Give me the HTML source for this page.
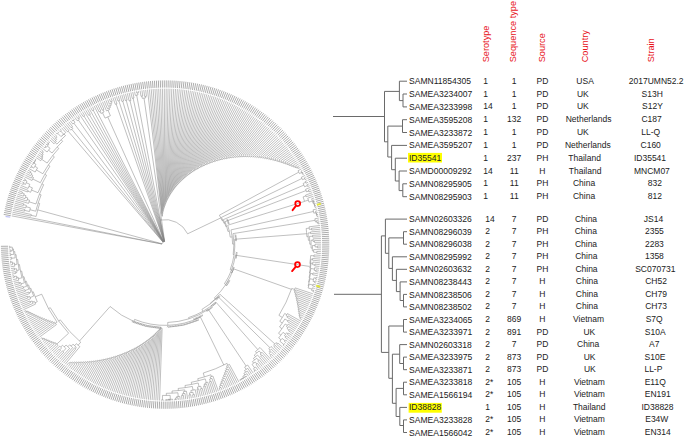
<!DOCTYPE html>
<html><head><meta charset="utf-8"><style>
html,body{margin:0;padding:0;background:#fff;}
svg{display:block;}
.n{font-family:"Liberation Sans",sans-serif;font-size:8.55px;fill:#222;}
.v{font-family:"Liberation Sans",sans-serif;font-size:8.5px;fill:#222;text-anchor:middle;}
.h{font-family:"Liberation Sans",sans-serif;font-size:9.2px;fill:#e8141b;}
</style></head><body>
<svg width="685" height="441" viewBox="0 0 685 441">
<path d="M161.95 244.01A3.20 3.20 0 0 1 164.46 241.46M161.95 244.01L11.76 215.90M161.96 243.97L12.12 214.06M162.01 243.76L37.74 209.90M36.14 216.44A132.00 132.00 0 0 1 39.68 203.45M36.14 216.44L31.11 215.34M30.94 216.14A137.15 137.15 0 0 1 31.29 214.53M30.94 216.14L12.50 212.23M31.29 214.53L12.90 210.40M39.68 203.45L38.17 202.95M35.75 211.22A133.59 133.59 0 0 1 41.12 194.86M35.75 211.22L29.91 209.71M29.45 211.54A139.62 139.62 0 0 1 30.39 207.89M29.45 211.54L24.60 210.36M24.40 211.21A144.61 144.61 0 0 1 24.81 209.52M24.40 211.21L13.32 208.57M24.81 209.52L13.76 206.75M30.39 207.89L26.03 206.70M25.69 207.95A144.14 144.14 0 0 1 26.38 205.45M25.69 207.95L14.23 204.94M26.38 205.45L23.54 204.65M23.30 205.50A147.09 147.09 0 0 1 23.78 203.80M23.30 205.50L14.71 203.13M23.78 203.80L15.22 201.33M41.12 194.86L39.43 194.18M35.93 203.98A135.41 135.41 0 0 1 43.67 184.69M35.93 203.98L28.99 201.79M28.50 203.38A142.68 142.68 0 0 1 29.50 200.21M28.50 203.38L15.75 199.53M29.50 200.21L27.25 199.48M26.75 201.03A145.04 145.04 0 0 1 27.77 197.93M26.75 201.03L16.30 197.74M27.77 197.93L25.53 197.17M25.04 198.64A147.41 147.41 0 0 1 26.04 195.71M25.04 198.64L16.88 195.96M26.04 195.71L23.81 194.92M23.37 196.20A149.77 149.77 0 0 1 24.26 193.65M23.37 196.20L17.47 194.18M24.26 193.65L22.04 192.85M21.73 193.71A152.14 152.14 0 0 1 22.35 191.99M21.73 193.71L18.09 192.41M22.35 191.99L18.72 190.65M43.67 184.69L41.95 183.84M37.97 192.69A137.32 137.32 0 0 1 46.56 175.29M37.97 192.69L31.49 190.05M30.61 192.26A144.32 144.32 0 0 1 32.41 187.85M30.61 192.26L27.83 191.18M27.51 192.01A147.30 147.30 0 0 1 28.15 190.36M27.51 192.01L19.38 188.90M28.15 190.36L20.06 187.15M32.41 187.85L28.94 186.37M28.08 188.42A148.09 148.09 0 0 1 29.83 184.33M28.08 188.42L20.76 185.42M29.83 184.33L26.25 182.73M25.51 184.41A152.01 152.01 0 0 1 27.00 181.07M25.51 184.41L23.67 183.61M23.30 184.46A154.03 154.03 0 0 1 24.03 182.76M23.30 184.46L21.48 183.69M24.03 182.76L22.23 181.97M27.00 181.07L24.95 180.13M24.57 180.97A154.27 154.27 0 0 1 25.34 179.29M24.57 180.97L22.99 180.26M25.34 179.29L23.77 178.55M46.56 175.29L44.85 174.29M40.31 182.71A139.30 139.30 0 0 1 49.95 166.21M40.31 182.71L32.78 178.97M32.05 180.47A147.70 147.70 0 0 1 33.53 177.49M32.05 180.47L24.57 176.86M33.53 177.49L32.02 176.72M31.31 178.12A149.40 149.40 0 0 1 32.74 175.32M31.31 178.12L25.40 175.18M32.74 175.32L31.23 174.53M30.60 175.74A151.10 151.10 0 0 1 31.87 173.33M30.60 175.74L26.24 173.51M31.87 173.33L30.37 172.53M29.94 173.34A152.80 152.80 0 0 1 30.80 171.72M29.94 173.34L27.10 171.85M30.80 171.72L27.99 170.19M49.95 166.21L48.27 165.07M42.83 173.72A141.33 141.33 0 0 1 54.33 156.83M42.83 173.72L36.37 169.98M35.18 172.06A148.80 148.80 0 0 1 37.59 167.91M35.18 172.06L28.89 168.55M37.59 167.91L34.86 166.27M33.75 168.13A151.99 151.99 0 0 1 35.99 164.42M33.75 168.13L31.58 166.87M31.11 167.67A154.50 154.50 0 0 1 32.05 166.07M31.11 167.67L29.81 166.92M32.05 166.07L30.76 165.30M35.99 164.42L33.85 163.09M33.00 164.47A154.50 154.50 0 0 1 34.71 161.72M33.00 164.47L31.72 163.70M34.71 161.72L34.71 161.72M33.97 162.89A154.50 154.50 0 0 1 35.47 160.55M33.97 162.89L32.70 162.10M35.47 160.55L35.47 160.55M34.96 161.33A154.50 154.50 0 0 1 35.97 159.77M34.96 161.33L33.70 160.52M35.97 159.77L34.72 158.95M54.33 156.83L52.71 155.54M47.14 163.05A143.40 143.40 0 0 1 58.75 148.41M47.14 163.05L41.71 159.30M40.73 160.74A150.00 150.00 0 0 1 42.72 157.87M40.73 160.74L35.76 157.39M42.72 157.87L41.98 157.35M41.01 158.74A150.90 150.90 0 0 1 42.97 155.97M41.01 158.74L36.81 155.84M42.97 155.97L42.24 155.44M41.31 156.74A151.80 151.80 0 0 1 43.19 154.16M41.31 156.74L37.89 154.31M43.19 154.16L42.46 153.62M41.65 154.73A152.70 152.70 0 0 1 43.29 152.52M41.65 154.73L38.98 152.78M43.29 152.52L42.57 151.98M42.02 152.71A153.60 153.60 0 0 1 43.13 151.24M42.02 152.71L40.09 151.28M43.13 151.24L41.22 149.78M58.75 148.41L57.18 146.99M52.05 152.99A145.51 145.51 0 0 1 62.63 141.29M52.05 152.99L48.56 150.16M47.09 152.01A150.00 150.00 0 0 1 50.07 148.33M47.09 152.01L42.37 148.30M50.07 148.33L47.36 146.06M46.03 147.66A153.54 153.54 0 0 1 48.70 144.48M46.03 147.66L45.29 147.05M44.70 147.78A154.50 154.50 0 0 1 45.87 146.34M44.70 147.78L43.53 146.84M45.87 146.34L44.72 145.38M48.70 144.48L47.97 143.85M47.06 144.91A154.50 154.50 0 0 1 48.88 142.80M47.06 144.91L45.92 143.94M48.88 142.80L48.88 142.80M48.27 143.50A154.50 154.50 0 0 1 49.49 142.11M48.27 143.50L47.13 142.52M49.49 142.11L48.37 141.11M62.63 141.29L61.13 139.77M56.93 144.11A147.65 147.65 0 0 1 65.50 135.61M56.93 144.11L55.20 142.51M54.06 143.75A150.00 150.00 0 0 1 56.36 141.28M54.06 143.75L49.62 139.72M56.36 141.28L55.54 140.50M54.46 141.66A151.12 151.12 0 0 1 56.64 139.36M54.46 141.66L50.89 138.34M56.64 139.36L55.84 138.57M54.89 139.56A152.25 152.25 0 0 1 56.80 137.59M54.89 139.56L52.17 136.98M56.80 137.59L56.00 136.80M55.35 137.46A153.38 153.38 0 0 1 56.64 136.15M55.35 137.46L53.47 135.63M56.64 136.15L54.79 134.29M65.50 135.61L64.04 134.01M62.39 135.54A149.81 149.81 0 0 1 65.71 132.50M62.39 135.54L62.26 135.40M60.96 136.64A150.00 150.00 0 0 1 63.58 134.17M60.96 136.64L57.83 133.41M57.17 134.05A154.50 154.50 0 0 1 58.50 132.76M57.17 134.05L56.12 132.98M58.50 132.76L57.47 131.68M63.58 134.17L60.64 130.98M59.96 131.61A154.34 154.34 0 0 1 61.33 130.35M59.96 131.61L58.83 130.39M61.33 130.35L60.21 129.13M65.71 132.50L61.61 127.87M163.02 242.17L68.08 131.12M67.40 131.71A149.30 149.30 0 0 1 68.76 130.54M67.40 131.71L63.01 126.64M68.76 130.54L64.44 125.42M163.09 242.11L71.80 129.31M70.76 130.15A148.32 148.32 0 0 1 72.84 128.47M70.76 130.15L65.88 124.22M72.84 128.47L71.77 127.12M71.07 127.69A150.04 150.04 0 0 1 72.48 126.57M71.07 127.69L67.33 123.04M72.48 126.57L68.80 121.87M163.18 242.04L73.91 123.23M72.82 124.05A151.81 151.81 0 0 1 75.01 122.41M72.82 124.05L70.28 120.73M75.01 122.41L73.56 120.44M72.81 121.00A154.26 154.26 0 0 1 74.30 119.90M72.81 121.00L71.77 119.60M74.30 119.90L73.28 118.49M163.27 241.97L78.34 120.02M77.22 120.81A151.81 151.81 0 0 1 79.47 119.24M77.22 120.81L74.80 117.39M79.47 119.24L78.64 118.03M77.88 118.55A153.29 153.29 0 0 1 79.40 117.51M77.88 118.55L76.33 116.32M79.40 117.51L77.88 115.26M163.34 241.93L79.44 114.22M163.39 241.89L83.89 116.00M83.11 116.49A152.10 152.10 0 0 1 84.66 115.52M83.11 116.49L81.01 113.20M84.66 115.52L82.59 112.20M163.44 241.86L84.19 111.22M163.49 241.83L89.57 114.87M88.79 115.33A150.11 150.11 0 0 1 90.35 114.42M88.79 115.33L85.80 110.26M90.35 114.42L87.42 109.32M163.54 241.81L89.05 108.40M163.59 241.78L93.20 110.21M92.40 110.65A152.41 152.41 0 0 1 94.01 109.78M92.40 110.65L90.69 107.49M94.01 109.78L92.34 106.61M163.64 241.75L94.00 105.74M163.79 241.68L107.71 116.90M105.06 118.13A140.00 140.00 0 0 1 110.38 115.74M105.06 118.13L102.49 112.71M100.91 113.47A146.00 146.00 0 0 1 104.08 111.96M100.91 113.47L99.97 111.56M99.18 111.95A148.13 148.13 0 0 1 100.77 111.17M99.18 111.95L95.67 104.90M100.77 111.17L97.35 104.08M104.08 111.96L103.09 109.83M102.29 110.21A148.35 148.35 0 0 1 103.90 109.46M102.29 110.21L99.05 103.27M103.90 109.46L100.75 102.49M110.38 115.74L108.03 110.21M106.47 110.89A146.00 146.00 0 0 1 109.60 109.56M106.47 110.89L102.46 101.73M109.60 109.56L108.96 107.99M107.42 108.63A147.70 147.70 0 0 1 110.50 107.36M107.42 108.63L104.18 100.99M110.50 107.36L109.87 105.78M108.41 106.37A149.40 149.40 0 0 1 111.33 105.21M108.41 106.37L105.91 100.27M111.33 105.21L110.72 103.63M109.45 104.12A151.10 151.10 0 0 1 111.99 103.14M109.45 104.12L107.65 99.57M111.99 103.14L111.39 101.55M110.53 101.88A152.80 152.80 0 0 1 112.25 101.23M110.53 101.88L109.39 98.89M112.25 101.23L111.14 98.23M164.05 241.58L116.13 103.99M115.28 104.29A148.89 148.89 0 0 1 116.97 103.70M115.28 104.29L112.91 97.59M116.97 103.70L114.68 96.97M164.12 241.55L118.86 100.81M118.00 101.09A151.04 151.04 0 0 1 119.73 100.54M118.00 101.09L116.45 96.38M119.73 100.54L118.23 95.81M164.19 241.53L122.76 101.20M121.90 101.46A149.52 149.52 0 0 1 123.62 100.95M121.90 101.46L120.02 95.25M123.62 100.95L121.82 94.72M164.27 241.51L126.24 100.34M125.38 100.58A149.40 149.40 0 0 1 127.11 100.11M125.38 100.58L123.62 94.21M127.11 100.11L125.43 93.73M164.34 241.49L130.03 100.74M129.17 100.96A148.07 148.07 0 0 1 130.90 100.54M129.17 100.96L127.25 93.26M130.90 100.54L129.07 92.82M164.42 241.47L133.12 98.21M132.24 98.40A149.85 149.85 0 0 1 134.00 98.02M132.24 98.40L130.89 92.40M134.00 98.02L132.72 92.00M164.50 241.46L136.65 95.13M135.31 95.39A152.15 152.15 0 0 1 138.00 94.88M135.31 95.39L134.56 91.62M138.00 94.88L137.62 92.79M136.71 92.96A154.27 154.27 0 0 1 138.54 92.63M136.71 92.96L136.40 91.26M138.54 92.63L138.24 90.93M164.64 241.43L144.00 98.06M142.24 98.33A148.05 148.05 0 0 1 145.76 97.82M142.24 98.33L141.89 96.12M141.00 96.26A150.29 150.29 0 0 1 142.78 95.98M141.00 96.26L140.09 90.62M142.78 95.98L141.94 90.33M145.76 97.82L145.57 96.40M144.68 96.52A149.48 149.48 0 0 1 146.46 96.29M144.68 96.52L143.79 90.06M146.46 96.29L145.65 89.82M164.46 241.46L160.12 220.10M160.33 220.06A25.00 25.00 0 0 1 187.64 233.79M160.33 220.06L159.65 216.55M161.88 216.21A28.57 28.57 0 0 1 162.56 216.14M161.88 216.21L147.51 89.60M162.56 216.14L162.38 214.08M162.01 214.12A30.64 30.64 0 0 1 162.74 214.05M162.01 214.12L149.37 89.40M162.74 214.05L162.62 212.45M162.23 212.48A32.24 32.24 0 0 1 163.01 212.43M162.23 212.48L151.23 89.22M163.01 212.43L162.92 211.15M162.52 211.18A33.52 33.52 0 0 1 163.33 211.13M162.52 211.18L153.10 89.06M163.33 211.13L163.26 209.85M162.84 209.88A34.80 34.80 0 0 1 163.67 209.83M162.84 209.88L154.97 88.93M163.67 209.83L163.62 208.56M163.19 208.58A36.07 36.07 0 0 1 164.06 208.54M163.19 208.58L156.84 88.82M164.06 208.54L164.02 207.27M163.57 207.28A37.35 37.35 0 0 1 164.47 207.26M163.57 207.28L158.71 88.73M164.47 207.26L164.45 205.98M163.98 205.99A38.62 38.62 0 0 1 164.91 205.98M163.98 205.99L160.58 88.67M164.91 205.98L164.90 204.70M164.42 204.71A39.90 39.90 0 0 1 165.38 204.70M164.42 204.71L162.45 88.62M165.38 204.70L165.39 203.43M164.90 203.42A41.18 41.18 0 0 1 165.88 203.43M164.90 203.42L164.33 88.60M165.88 203.43L165.91 202.16M165.40 202.15A42.45 42.45 0 0 1 166.42 202.17M165.40 202.15L166.20 88.60M166.42 202.17L166.46 200.89M165.93 200.88A43.73 43.73 0 0 1 166.98 200.91M165.93 200.88L168.07 88.63M166.98 200.91L167.04 199.64M166.50 199.62A45.00 45.00 0 0 1 167.58 199.66M166.50 199.62L169.95 88.68M167.58 199.66L167.65 198.39M167.09 198.36A46.28 46.28 0 0 1 168.20 198.42M167.09 198.36L171.82 88.74M168.20 198.42L168.29 197.15M167.72 197.12A47.56 47.56 0 0 1 168.86 197.19M167.72 197.12L173.69 88.84M168.86 197.19L168.96 195.92M168.37 195.88A48.83 48.83 0 0 1 169.54 195.97M168.37 195.88L175.56 88.95M169.54 195.97L169.66 194.70M169.06 194.65A50.11 50.11 0 0 1 170.26 194.76M169.06 194.65L177.43 89.09M170.26 194.76L170.39 193.49M169.78 193.43A51.38 51.38 0 0 1 171.00 193.56M169.78 193.43L179.29 89.25M171.00 193.56L171.15 192.29M170.52 192.22A52.66 52.66 0 0 1 171.78 192.36M170.52 192.22L181.16 89.43M171.78 192.36L171.94 191.10M171.30 191.02A53.94 53.94 0 0 1 172.58 191.19M171.30 191.02L183.02 89.63M172.58 191.19L172.76 189.92M172.10 189.83A55.21 55.21 0 0 1 173.41 190.02M172.10 189.83L184.88 89.86M173.41 190.02L173.61 188.76M172.93 188.66A56.49 56.49 0 0 1 174.28 188.86M172.93 188.66L186.74 90.11M174.28 188.86L174.48 187.60M173.80 187.49A57.76 57.76 0 0 1 175.17 187.72M173.80 187.49L188.59 90.38M175.17 187.72L175.39 186.46M174.69 186.34A59.04 59.04 0 0 1 176.09 186.59M174.69 186.34L190.44 90.67M176.09 186.59L176.32 185.34M175.61 185.21A60.32 60.32 0 0 1 177.03 185.48M175.61 185.21L192.29 90.99M177.03 185.48L177.29 184.23M176.56 184.08A61.59 61.59 0 0 1 178.01 184.38M176.56 184.08L194.13 91.32M178.01 184.38L178.28 183.13M177.54 182.97A62.87 62.87 0 0 1 179.02 183.29M177.54 182.97L195.97 91.68M179.02 183.29L179.30 182.05M178.55 181.88A64.14 64.14 0 0 1 180.05 182.22M178.55 181.88L197.80 92.07M180.05 182.22L180.35 180.98M179.58 180.80A65.42 65.42 0 0 1 181.11 181.17M179.58 180.80L199.63 92.47M181.11 181.17L181.42 179.93M180.64 179.74A66.70 66.70 0 0 1 182.20 180.13M180.64 179.74L201.45 92.89M182.20 180.13L182.52 178.90M181.73 178.69A67.97 67.97 0 0 1 183.31 179.11M181.73 178.69L203.27 93.34M183.31 179.11L183.65 177.88M182.85 177.66A69.25 69.25 0 0 1 184.45 178.11M182.85 177.66L205.09 93.81M184.45 178.11L184.81 176.88M183.99 176.65A70.53 70.53 0 0 1 185.62 177.13M183.99 176.65L206.89 94.30M185.62 177.13L185.99 175.91M185.17 175.66A71.80 71.80 0 0 1 186.81 176.16M185.17 175.66L208.69 94.82M186.81 176.16L187.20 174.94M186.36 174.68A73.08 73.08 0 0 1 188.04 175.22M186.36 174.68L210.49 95.35M188.04 175.22L188.44 174.00M187.59 173.73A74.35 74.35 0 0 1 189.28 174.29M187.59 173.73L212.28 95.91M189.28 174.29L189.70 173.08M188.84 172.79A75.63 75.63 0 0 1 190.55 173.38M188.84 172.79L214.06 96.48M190.55 173.38L190.98 172.18M190.11 171.88A76.91 76.91 0 0 1 191.85 172.50M190.11 171.88L215.84 97.08M191.85 172.50L192.29 171.30M191.41 170.98A78.18 78.18 0 0 1 193.17 171.63M191.41 170.98L217.60 97.70M193.17 171.63L193.63 170.44M192.74 170.10A79.46 79.46 0 0 1 194.52 170.79M192.74 170.10L219.36 98.34M194.52 170.79L194.99 169.60M194.09 169.25A80.73 80.73 0 0 1 195.89 169.97M194.09 169.25L221.12 99.00M195.89 169.97L196.38 168.79M195.46 168.42A82.01 82.01 0 0 1 197.29 169.17M195.46 168.42L222.86 99.69M197.29 169.17L197.79 168.00M196.86 167.61A83.29 83.29 0 0 1 198.70 168.39M196.86 167.61L224.60 100.39M198.70 168.39L199.22 167.23M198.29 166.82A84.56 84.56 0 0 1 200.14 167.64M198.29 166.82L226.32 101.12M200.14 167.64L200.67 166.48M199.73 166.06A85.84 85.84 0 0 1 201.61 166.91M199.73 166.06L228.04 101.86M201.61 166.91L202.15 165.76M201.20 165.32A87.11 87.11 0 0 1 203.10 166.21M201.20 165.32L229.75 102.63M203.10 166.21L203.65 165.06M202.69 164.60A88.39 88.39 0 0 1 204.60 165.53M202.69 164.60L231.45 103.41M204.60 165.53L205.18 164.37M204.22 163.90A89.68 89.68 0 0 1 206.14 164.86M204.22 163.90L233.14 104.22M206.14 164.86L206.74 163.69M205.77 163.20A90.99 90.99 0 0 1 207.71 164.20M205.77 163.20L234.82 105.05M207.71 164.20L208.33 163.04M207.34 162.53A92.30 92.30 0 0 1 209.30 163.57M207.34 162.53L236.49 105.89M209.30 163.57L209.93 162.42M208.94 161.88A93.62 93.62 0 0 1 210.91 162.96M208.94 161.88L238.15 106.76M210.91 162.96L211.55 161.82M210.56 161.27A94.93 94.93 0 0 1 212.54 162.38M210.56 161.27L239.80 107.65M212.54 162.38L213.20 161.25M212.19 160.67A96.24 96.24 0 0 1 214.20 161.83M212.19 160.67L241.44 108.56M214.20 161.83L214.87 160.70M213.85 160.11A97.55 97.55 0 0 1 215.87 161.31M213.85 160.11L243.07 109.48M215.87 161.31L216.55 160.19M215.53 159.58A98.86 98.86 0 0 1 217.56 160.81M215.53 159.58L244.69 110.43M217.56 160.81L218.26 159.70M217.23 159.07A100.17 100.17 0 0 1 219.27 160.34M217.23 159.07L246.29 111.39M219.27 160.34L219.98 159.24M218.95 158.59A101.48 101.48 0 0 1 221.00 159.91M218.95 158.59L247.88 112.38M221.00 159.91L221.72 158.81M220.69 158.14A102.79 102.79 0 0 1 222.75 159.50M220.69 158.14L249.47 113.38M222.75 159.50L223.48 158.42M222.45 157.72A104.10 104.10 0 0 1 224.51 159.12M222.45 157.72L251.04 114.40M224.51 159.12L225.26 158.05M224.22 157.33A105.41 105.41 0 0 1 226.30 158.77M224.22 157.33L252.59 115.45M226.30 158.77L227.06 157.71M226.01 156.97A106.72 106.72 0 0 1 228.10 158.46M226.01 156.97L254.14 116.51M228.10 158.46L228.87 157.40M227.82 156.64A108.03 108.03 0 0 1 229.91 158.17M227.82 156.64L255.67 117.58M229.91 158.17L230.70 157.12M229.64 156.34A109.34 109.34 0 0 1 231.74 157.92M229.64 156.34L257.19 118.68M231.74 157.92L232.54 156.88M231.49 156.08A110.65 110.65 0 0 1 233.59 157.70M231.49 156.08L258.69 119.79M233.59 157.70L234.40 156.67M233.34 155.84A111.96 111.96 0 0 1 235.45 157.50M233.34 155.84L260.18 120.93M235.45 157.50L236.28 156.49M235.21 155.64A113.27 113.27 0 0 1 237.33 157.35M235.21 155.64L261.66 122.08M237.33 157.35L238.17 156.34M237.10 155.47A114.58 114.58 0 0 1 239.22 157.22M237.10 155.47L263.13 123.25M239.22 157.22L240.07 156.22M239.00 155.33A115.89 115.89 0 0 1 241.12 157.13M239.00 155.33L264.58 124.43M241.12 157.13L241.98 156.14M240.92 155.22A117.20 117.20 0 0 1 243.04 157.07M240.92 155.22L266.01 125.64M243.04 157.07L243.91 156.09M242.84 155.15A118.51 118.51 0 0 1 244.97 157.04M242.84 155.15L267.43 126.86M244.97 157.04L245.85 156.07M244.78 155.11A119.82 119.82 0 0 1 246.91 157.05M244.78 155.11L268.84 128.09M246.91 157.05L247.80 156.09M246.73 155.11A121.13 121.13 0 0 1 248.86 157.09M246.73 155.11L270.23 129.35M248.86 157.09L249.77 156.15M248.70 155.13A122.44 122.44 0 0 1 250.82 157.17M248.70 155.13L271.61 130.62M250.82 157.17L251.74 156.23M250.67 155.20A123.75 123.75 0 0 1 252.79 157.28M250.67 155.20L272.97 131.90M252.79 157.28L253.72 156.35M252.66 155.30A125.07 125.07 0 0 1 254.78 157.42M252.66 155.30L274.31 133.21M254.78 157.42L255.72 156.51M254.65 155.43A126.38 126.38 0 0 1 256.77 157.61M254.65 155.43L275.64 134.53M256.77 157.61L257.72 156.70M256.66 155.60A127.69 127.69 0 0 1 258.77 157.82M256.66 155.60L276.96 135.86M258.77 157.82L259.73 156.93M258.67 155.80A129.00 129.00 0 0 1 260.77 158.07M258.67 155.80L278.26 137.21M260.77 158.07L261.73 157.21M260.68 156.05A130.29 130.29 0 0 1 262.77 158.37M260.68 156.05L279.54 138.58M262.77 158.37L263.74 157.52M262.69 156.34A131.58 131.58 0 0 1 264.78 158.71M262.69 156.34L280.80 139.96M264.78 158.71L265.76 157.86M264.71 156.66A132.88 132.88 0 0 1 266.80 159.08M264.71 156.66L282.05 141.36M266.80 159.08L267.79 158.25M266.74 157.02A134.17 134.17 0 0 1 268.82 159.49M266.74 157.02L283.28 142.77M268.82 159.49L269.82 158.67M268.78 157.41A135.46 135.46 0 0 1 270.84 159.93M268.78 157.41L284.49 144.20M270.84 159.93L271.85 159.12M270.82 157.85A136.76 136.76 0 0 1 272.87 160.41M270.82 157.85L285.69 145.64M272.87 160.41L273.89 159.61M272.86 158.31A138.05 138.05 0 0 1 274.90 160.92M272.86 158.31L286.87 147.09M274.90 160.92L275.93 160.14M274.91 158.82A139.34 139.34 0 0 1 276.93 161.48M274.91 158.82L288.03 148.56M276.93 161.48L277.97 160.71M276.96 159.36A140.64 140.64 0 0 1 278.97 162.07M276.96 159.36L289.18 150.04M278.97 162.07L280.02 161.31M279.01 159.93A141.93 141.93 0 0 1 281.01 162.69M279.01 159.93L290.30 151.54M281.01 162.69L282.06 161.95M281.07 160.55A143.22 143.22 0 0 1 283.05 163.35M281.07 160.55L291.41 153.05M283.05 163.35L284.11 162.62M283.12 161.20A144.51 144.51 0 0 1 285.08 164.05M283.12 161.20L292.50 154.57M285.08 164.05L286.16 163.33M285.18 161.89A145.81 145.81 0 0 1 287.12 164.78M285.18 161.89L293.57 156.11M287.12 164.78L288.20 164.07M287.24 162.62A147.10 147.10 0 0 1 289.14 165.53M287.24 162.62L294.63 157.66M289.14 165.53L290.23 164.83M289.30 163.38A148.39 148.39 0 0 1 291.15 166.29M289.30 163.38L295.66 159.22M291.15 166.29L292.25 165.61M291.35 164.19A149.69 149.69 0 0 1 293.13 167.05M291.35 164.19L296.68 160.79M293.13 167.05L294.24 166.38M293.41 165.03A150.98 150.98 0 0 1 295.05 167.74M293.41 165.03L297.67 162.38M295.05 167.74L296.17 167.08M295.46 165.90A152.27 152.27 0 0 1 296.86 168.26M295.46 165.90L298.65 163.98M296.86 168.26L297.98 167.62M297.51 166.82A153.57 153.57 0 0 1 298.44 168.42M297.51 166.82L299.61 165.59M298.44 168.42L300.55 167.21M187.64 233.79L220.80 217.88M219.41 215.17A61.77 61.77 0 0 1 222.05 220.66M219.41 215.17L298.74 172.18M297.97 170.78A152.00 152.00 0 0 1 299.49 173.59M297.97 170.78L301.47 168.84M299.49 173.59L301.70 172.42M301.05 171.20A154.50 154.50 0 0 1 302.35 173.66M301.05 171.20L302.37 170.48M302.35 173.66L302.35 173.66M301.92 172.83A154.50 154.50 0 0 1 302.77 174.48M301.92 172.83L303.25 172.14M302.77 174.48L304.11 173.80M222.05 220.66L222.79 220.35M221.45 217.38A62.58 62.58 0 0 1 223.97 223.39M221.45 217.38L301.96 178.48M301.36 177.25A152.00 152.00 0 0 1 302.55 179.71M301.36 177.25L304.95 175.47M302.55 179.71L304.70 178.70M304.30 177.86A154.37 154.37 0 0 1 305.09 179.54M304.30 177.86L305.77 177.16M305.09 179.54L306.57 178.85M223.97 223.39L224.73 223.12M223.35 219.63A63.38 63.38 0 0 1 225.90 226.69M223.35 219.63L303.88 185.10M303.16 183.44A151.00 151.00 0 0 1 304.59 186.77M303.16 183.44L305.57 182.37M305.19 181.53A153.63 153.63 0 0 1 305.94 183.21M305.19 181.53L307.35 180.56M305.94 183.21L308.11 182.27M304.59 186.77L307.27 185.66M306.91 184.81A153.90 153.90 0 0 1 307.62 186.51M306.91 184.81L308.84 183.99M307.62 186.51L309.56 185.72M225.90 226.69L226.67 226.46M225.03 221.63A64.18 64.18 0 0 1 227.91 231.41M225.03 221.63L306.10 190.56M305.61 189.29A151.00 151.00 0 0 1 306.58 191.83M305.61 189.29L310.26 187.46M306.58 191.83L308.66 191.05M308.34 190.19A153.22 153.22 0 0 1 308.98 191.92M308.34 190.19L310.93 189.21M308.98 191.92L311.59 190.96M227.91 231.41L229.26 231.13M227.73 225.21A65.56 65.56 0 0 1 230.23 237.16M227.73 225.21L304.57 201.43M303.08 196.88A146.00 146.00 0 0 1 304.53 201.30M303.08 196.88L305.92 195.90M305.62 195.05A149.00 149.00 0 0 1 306.21 196.74M305.62 195.05L312.22 192.72M306.21 196.74L312.83 194.49M304.53 201.30L308.35 200.12M307.71 198.13A149.99 149.99 0 0 1 308.95 202.11M307.71 198.13L313.43 196.27M308.95 202.11L312.39 201.09M311.68 198.78A153.58 153.58 0 0 1 313.05 203.42M311.68 198.78L313.99 198.06M313.05 203.42L313.94 203.17M313.37 201.17A154.50 154.50 0 0 1 314.49 205.19M313.37 201.17L313.37 201.17M313.11 200.28A154.50 154.50 0 0 1 313.63 202.06M313.11 200.28L314.54 199.85M313.63 202.06L315.07 201.64M314.49 205.19L314.49 205.19M314.13 203.84A154.50 154.50 0 0 1 314.84 206.54M314.13 203.84L315.57 203.45M314.84 206.54L314.84 206.54M314.61 205.64A154.50 154.50 0 0 1 315.06 207.43M314.61 205.64L316.06 205.26M315.06 207.43L316.52 207.07M230.23 237.16L232.16 236.94M230.97 229.89A67.50 67.50 0 0 1 232.59 244.08M230.97 229.89L313.45 211.48M313.07 209.81A152.00 152.00 0 0 1 313.81 213.15M313.07 209.81L316.96 208.89M313.81 213.15L315.93 212.70M315.58 211.12A154.16 154.16 0 0 1 316.25 214.29M315.58 211.12L317.38 210.72M316.25 214.29L316.58 214.22M316.30 212.86A154.50 154.50 0 0 1 316.85 215.59M316.30 212.86L317.77 212.55M316.85 215.59L316.85 215.59M316.67 214.68A154.50 154.50 0 0 1 317.02 216.50M316.67 214.68L318.15 214.39M317.02 216.50L318.50 216.23M232.59 244.08L233.92 244.07M233.04 233.61A68.82 68.82 0 0 1 233.20 254.53M233.04 233.61L315.15 220.33M314.89 218.75A152.00 152.00 0 0 1 315.40 221.90M314.89 218.75L318.83 218.07M315.40 221.90L316.94 221.67M316.72 220.30A153.56 153.56 0 0 1 317.14 223.04M316.72 220.30L319.14 219.92M317.14 223.04L318.07 222.91M317.94 221.99A154.50 154.50 0 0 1 318.20 223.83M317.94 221.99L319.42 221.77M318.20 223.83L319.68 223.62M233.20 254.53L234.09 254.66M234.61 239.25A69.72 69.72 0 0 1 230.19 269.58M234.61 239.25L306.68 233.71M306.18 228.47A142.00 142.00 0 0 1 306.88 236.75M306.18 228.47L309.24 228.12M309.08 226.82A145.07 145.07 0 0 1 309.38 229.42M309.08 226.82L319.92 225.48M309.38 229.42L311.62 229.18M311.52 228.30A147.32 147.32 0 0 1 311.71 230.06M311.52 228.30L320.14 227.34M311.71 230.06L320.34 229.20M306.88 236.75L308.21 236.67M307.97 233.03A143.33 143.33 0 0 1 308.37 240.33M307.97 233.03L310.57 232.81M310.50 231.94A145.95 145.95 0 0 1 310.64 233.69M310.50 231.94L320.51 231.07M310.64 233.69L320.66 232.94M308.37 240.33L309.70 240.29M309.53 236.38A144.67 144.67 0 0 1 309.77 244.20M309.53 236.38L312.60 236.21M312.55 235.32A147.74 147.74 0 0 1 312.65 237.10M312.55 235.32L320.79 234.81M312.65 237.10L320.90 236.68M309.77 244.20L311.10 244.19M311.04 240.25A146.00 146.00 0 0 1 311.06 248.14M311.04 240.25L313.13 240.19M313.08 238.85A148.09 148.09 0 0 1 313.16 241.52M313.08 238.85L320.98 238.55M313.16 241.52L314.42 241.49M314.40 240.60A149.35 149.35 0 0 1 314.44 242.39M314.40 240.60L321.04 240.42M314.44 242.39L321.08 242.29M311.06 248.14L312.39 248.17M312.43 245.52A147.33 147.33 0 0 1 312.30 250.82M312.43 245.52L315.07 245.53M315.07 244.18A149.97 149.97 0 0 1 315.05 246.88M315.07 244.18L321.10 244.17M315.05 246.88L317.33 246.92M317.34 246.00A152.25 152.25 0 0 1 317.31 247.83M317.34 246.00L321.09 246.04M317.31 247.83L321.06 247.91M312.30 250.82L313.63 250.88M313.68 249.54A148.67 148.67 0 0 1 313.57 252.22M313.68 249.54L321.01 249.78M313.57 252.22L316.74 252.38M316.78 251.47A151.84 151.84 0 0 1 316.69 253.29M316.78 251.47L320.94 251.66M316.69 253.29L320.84 253.53M230.19 269.58L231.48 270.08M235.40 255.23A71.10 71.10 0 0 1 224.46 283.74M235.40 255.23L309.46 266.43M310.69 255.58A146.00 146.00 0 0 1 309.87 263.49M310.69 255.58L313.95 255.82M314.01 254.93A149.27 149.27 0 0 1 313.88 256.72M314.01 254.93L320.73 255.40M313.88 256.72L320.59 257.26M309.87 263.49L310.44 263.56M310.95 259.13A146.57 146.57 0 0 1 309.80 267.97M310.95 259.13L312.55 259.29M312.63 258.40A148.18 148.18 0 0 1 312.45 260.17M312.63 258.40L320.42 259.13M312.45 260.17L320.24 260.99M309.80 267.97L310.36 268.06M311.07 263.13A147.14 147.14 0 0 1 309.48 272.97M311.07 263.13L312.74 263.35M312.91 262.02A148.83 148.83 0 0 1 312.57 264.67M312.91 262.02L320.03 262.85M312.57 264.67L314.88 264.99M315.00 264.09A151.16 151.16 0 0 1 314.76 265.89M315.00 264.09L319.80 264.71M314.76 265.89L319.55 266.57M309.48 272.97L310.04 273.08M310.87 268.47A147.71 147.71 0 0 1 309.07 277.66M310.87 268.47L314.42 269.05M314.64 267.71A151.31 151.31 0 0 1 314.20 270.40M314.64 267.71L319.27 268.42M314.20 270.40L315.96 270.70M316.11 269.79A153.10 153.10 0 0 1 315.80 271.61M316.11 269.79L318.97 270.27M315.80 271.61L318.65 272.12M309.07 277.66L309.62 277.79M310.57 273.38A148.29 148.29 0 0 1 308.55 282.16M310.57 273.38L312.81 273.83M312.98 272.94A150.57 150.57 0 0 1 312.63 274.71M312.98 272.94L318.31 273.96M312.63 274.71L317.95 275.80M308.55 282.16L309.10 282.31M309.99 278.73A148.86 148.86 0 0 1 308.12 285.86M309.99 278.73L313.47 279.55M313.88 277.77A152.43 152.43 0 0 1 313.04 281.33M313.88 277.77L315.85 278.21M316.05 277.30A154.45 154.45 0 0 1 315.64 279.11M316.05 277.30L317.56 277.63M315.64 279.11L317.16 279.46M313.04 281.33L314.83 281.78M315.05 280.88A154.28 154.28 0 0 1 314.60 282.67M315.05 280.88L316.73 281.28M314.60 282.67L316.27 283.10M308.12 285.86L308.67 286.02M309.22 284.08A149.43 149.43 0 0 1 308.10 287.96M309.22 284.08L312.90 285.09M313.14 284.20A153.24 153.24 0 0 1 312.65 285.97M313.14 284.20L315.80 284.91M312.65 285.97L315.31 286.72M308.10 287.96L312.05 289.16M312.44 287.83A153.55 153.55 0 0 1 311.64 290.48M312.44 287.83L314.79 288.52M311.64 290.48L313.31 291.00M313.58 290.11A155.30 155.30 0 0 1 313.03 291.89M313.58 290.11L314.25 290.31M313.03 291.89L313.69 292.10M224.46 283.74L225.73 284.57M233.55 268.84A72.62 72.62 0 0 1 214.35 297.96M233.55 268.84L291.41 289.33M291.72 288.45A134.00 134.00 0 0 1 278.91 315.34M291.72 288.45L294.56 289.44M295.08 287.88A137.00 137.00 0 0 1 294.01 290.99M295.08 287.88L313.11 293.88M294.01 290.99L295.14 291.39M295.69 289.83A138.20 138.20 0 0 1 294.57 292.95M295.69 289.83L312.51 295.65M294.57 292.95L295.69 293.37M296.27 291.80A139.40 139.40 0 0 1 295.09 294.94M296.27 291.80L311.89 297.42M295.09 294.94L296.21 295.37M296.81 293.79A140.60 140.60 0 0 1 295.60 296.94M296.81 293.79L311.24 299.18M295.60 296.94L296.71 297.39M297.33 295.80A141.80 141.80 0 0 1 296.07 298.96M297.33 295.80L310.57 300.93M296.07 298.96L297.17 299.42M297.82 297.83A143.00 143.00 0 0 1 296.51 301.00M297.82 297.83L309.89 302.67M296.51 301.00L297.61 301.48M298.28 299.88A144.20 144.20 0 0 1 296.92 303.06M298.28 299.88L309.18 304.41M296.92 303.06L298.02 303.55M298.71 301.95A145.40 145.40 0 0 1 297.30 305.13M298.71 301.95L308.45 306.13M297.30 305.13L298.39 305.63M299.11 304.04A146.60 146.60 0 0 1 297.66 307.21M299.11 304.04L307.70 307.85M297.66 307.21L298.74 307.73M299.48 306.14A147.80 147.80 0 0 1 297.99 309.30M299.48 306.14L306.93 309.56M297.99 309.30L299.06 309.83M299.81 308.26A149.00 149.00 0 0 1 298.30 311.38M299.81 308.26L306.14 311.26M298.30 311.38L299.37 311.92M300.12 310.40A150.20 150.20 0 0 1 298.60 313.43M300.12 310.40L305.33 312.94M298.60 313.43L299.67 313.98M300.39 312.56A151.40 151.40 0 0 1 298.93 315.39M300.39 312.56L304.50 314.62M298.93 315.39L299.99 315.95M300.63 314.73A152.60 152.60 0 0 1 299.35 317.16M300.63 314.73L303.65 316.29M299.35 317.16L300.40 317.73M300.84 316.92A153.80 153.80 0 0 1 299.96 318.54M300.84 316.92L302.78 317.95M299.96 318.54L301.89 319.60M278.91 315.34L282.31 317.45M284.69 313.47A138.00 138.00 0 0 1 279.79 321.34M284.69 313.47L286.82 314.70M287.44 313.60A140.46 140.46 0 0 1 286.18 315.79M287.44 313.60L300.98 321.24M286.18 315.79L287.57 316.61M288.00 315.87A142.07 142.07 0 0 1 287.14 317.34M288.00 315.87L300.05 322.86M287.14 317.34L299.10 324.48M279.79 321.34L282.29 323.01M284.89 318.97A141.00 141.00 0 0 1 279.54 326.97M284.89 318.97L288.04 320.92M288.50 320.18A144.70 144.70 0 0 1 287.58 321.65M288.50 320.18L298.13 326.08M287.58 321.65L297.14 327.67M279.54 326.97L281.98 328.72M285.23 324.00A144.00 144.00 0 0 1 278.54 333.30M285.23 324.00L287.32 325.39M288.17 324.10A146.51 146.51 0 0 1 286.47 326.67M288.17 324.10L296.14 329.25M286.47 326.67L287.93 327.66M288.67 326.55A148.27 148.27 0 0 1 287.17 328.76M288.67 326.55L295.11 330.82M287.17 328.76L289.14 330.11M289.65 329.37A150.66 150.66 0 0 1 288.62 330.86M289.65 329.37L294.07 332.37M288.62 330.86L293.00 333.91M278.54 333.30L280.90 335.15M283.04 332.34A147.00 147.00 0 0 1 278.69 337.90M283.04 332.34L285.57 334.22M286.64 332.77A150.15 150.15 0 0 1 284.49 335.66M286.64 332.77L288.13 333.85M288.67 333.11A152.00 152.00 0 0 1 287.60 334.59M288.67 333.11L291.92 335.44M287.60 334.59L290.82 336.96M284.49 335.66L285.69 336.58M286.24 335.85A151.66 151.66 0 0 1 285.13 337.30M286.24 335.85L289.70 338.46M285.13 337.30L288.57 339.95M278.69 337.90L281.01 339.81M282.15 338.41A150.00 150.00 0 0 1 279.86 341.19M282.15 338.41L285.08 340.76M285.66 340.04A153.76 153.76 0 0 1 284.51 341.48M285.66 340.04L287.41 341.43M284.51 341.48L286.24 342.89M279.86 341.19L283.63 344.36M284.23 343.65A154.92 154.92 0 0 1 283.03 345.07M284.23 343.65L285.05 344.34M283.03 345.07L283.85 345.77M214.35 297.96L215.29 298.99M219.97 294.27A74.01 74.01 0 0 1 210.21 303.27M219.97 294.27L274.83 343.92M276.01 342.59A148.00 148.00 0 0 1 273.62 345.23M276.01 342.59L277.25 343.69M277.85 343.02A149.66 149.66 0 0 1 276.66 344.37M277.85 343.02L282.62 347.19M276.66 344.37L281.38 348.59M273.62 345.23L274.52 346.06M275.13 345.40A149.22 149.22 0 0 1 273.91 346.71M275.13 345.40L280.13 349.98M273.91 346.71L278.85 351.35M210.21 303.27L210.53 303.68M218.24 296.85A74.53 74.53 0 0 1 201.94 309.38M218.24 296.85L269.92 347.66M271.07 346.47A147.00 147.00 0 0 1 268.75 348.83M271.07 346.47L277.56 352.71M268.75 348.83L270.21 350.30M271.32 349.19A149.07 149.07 0 0 1 269.09 351.40M271.32 349.19L276.26 354.05M269.09 351.40L270.07 352.40M271.04 351.45A150.47 150.47 0 0 1 269.10 353.34M271.04 351.45L274.93 355.38M269.10 353.34L270.75 355.07M271.41 354.43A152.86 152.86 0 0 1 270.08 355.70M271.41 354.43L273.60 356.69M270.08 355.70L272.24 357.99M201.94 309.38L203.01 311.25M215.85 302.08A76.68 76.68 0 0 1 188.57 317.60M215.85 302.08L257.75 349.55M260.02 347.50A140.00 140.00 0 0 1 255.44 351.55M260.02 347.50L270.87 359.27M255.44 351.55L256.73 353.08M259.17 350.97A142.00 142.00 0 0 1 254.24 355.13M259.17 350.97L261.06 353.11M262.03 352.24A144.85 144.85 0 0 1 260.07 353.97M262.03 352.24L269.49 360.53M260.07 353.97L261.30 355.38M261.96 354.80A146.72 146.72 0 0 1 260.63 355.96M261.96 354.80L268.09 361.77M260.63 355.96L266.67 363.00M254.24 355.13L255.50 356.69M257.54 355.01A144.00 144.00 0 0 1 253.42 358.33M257.54 355.01L265.25 364.21M253.42 358.33L254.65 359.91M256.79 358.21A146.00 146.00 0 0 1 252.47 361.57M256.79 358.21L258.46 360.28M259.16 359.72A148.66 148.66 0 0 1 257.77 360.84M259.16 359.72L263.80 365.41M257.77 360.84L262.34 366.58M252.47 361.57L253.66 363.18M255.26 361.97A148.00 148.00 0 0 1 252.06 364.36M255.26 361.97L256.87 364.07M257.59 363.51A150.64 150.64 0 0 1 256.15 364.61M257.59 363.51L260.87 367.74M256.15 364.61L259.39 368.88M252.06 364.36L254.60 367.86M255.70 367.05A152.33 152.33 0 0 1 253.48 368.66M255.70 367.05L257.89 370.00M253.48 368.66L254.70 370.37M255.46 369.83A154.43 154.43 0 0 1 253.95 370.91M255.46 369.83L256.38 371.11M253.95 370.91L254.85 372.20M188.57 317.60L188.94 318.76M208.34 309.39A77.90 77.90 0 0 1 167.71 322.46M208.34 309.39L246.15 366.04M247.66 365.02A146.00 146.00 0 0 1 244.63 367.04M247.66 365.02L253.31 373.26M244.63 367.04L246.18 369.43M247.79 368.37A148.85 148.85 0 0 1 244.56 370.47M247.79 368.37L251.76 374.31M244.56 370.47L245.65 372.20M247.41 371.07A150.90 150.90 0 0 1 243.87 373.31M247.41 371.07L250.20 375.35M243.87 373.31L244.89 374.97M246.93 373.70A152.85 152.85 0 0 1 242.83 376.21M246.93 373.70L248.62 376.36M242.83 376.21L243.66 377.63M245.45 376.56A154.50 154.50 0 0 1 241.86 378.68M245.45 376.56L245.45 376.56M246.25 376.08A154.50 154.50 0 0 1 244.66 377.04M246.25 376.08L247.03 377.35M244.66 377.04L245.43 378.33M241.86 378.68L241.86 378.68M243.06 377.99A154.50 154.50 0 0 1 240.65 379.37M243.06 377.99L243.82 379.28M240.65 379.37L240.65 379.37M241.46 378.91A154.50 154.50 0 0 1 239.84 379.82M241.46 378.91L242.20 380.22M239.84 379.82L240.56 381.13M167.71 322.46L167.81 325.34M200.51 317.21A80.78 80.78 0 0 1 134.63 319.42M200.51 317.21L223.84 365.04M227.09 363.40A134.00 134.00 0 0 1 203.24 373.06M227.09 363.40L228.01 365.17M229.46 364.41A136.00 136.00 0 0 1 226.56 365.92M229.46 364.41L238.92 382.03M226.56 365.92L227.34 367.46M228.81 366.70A137.73 137.73 0 0 1 225.86 368.20M228.81 366.70L237.26 382.90M225.86 368.20L226.63 369.75M228.12 369.00A139.45 139.45 0 0 1 225.12 370.48M228.12 369.00L235.60 383.76M225.12 370.48L225.87 372.04M227.39 371.30A141.18 141.18 0 0 1 224.34 372.75M227.39 371.30L233.92 384.60M224.34 372.75L225.06 374.32M226.60 373.60A142.91 142.91 0 0 1 223.51 375.03M226.60 373.60L232.24 385.41M223.51 375.03L224.22 376.60M225.77 375.89A144.64 144.64 0 0 1 222.65 377.29M225.77 375.89L230.54 386.21M222.65 377.29L223.34 378.88M224.90 378.19A146.36 146.36 0 0 1 221.78 379.55M224.90 378.19L228.84 386.99M221.78 379.55L222.44 381.14M223.98 380.48A148.09 148.09 0 0 1 220.90 381.77M223.98 380.48L227.12 387.74M220.90 381.77L221.55 383.37M223.01 382.77A149.82 149.82 0 0 1 220.09 383.96M223.01 382.77L225.40 388.48M220.09 383.96L220.73 385.57M221.99 385.06A151.55 151.55 0 0 1 219.46 386.06M221.99 385.06L223.67 389.19M219.46 386.06L220.08 387.67M220.93 387.34A153.27 153.27 0 0 1 219.22 388.00M220.93 387.34L221.93 389.88M219.22 388.00L220.18 390.55M203.24 373.06L204.38 376.89M210.90 374.78A138.00 138.00 0 0 1 197.76 378.68M210.90 374.78L211.52 376.51M212.90 376.02A139.84 139.84 0 0 1 210.13 376.99M212.90 376.02L218.42 391.20M210.13 376.99L210.74 378.80M211.95 378.39A141.75 141.75 0 0 1 209.53 379.21M211.95 378.39L216.66 391.83M209.53 379.21L210.27 381.46M211.10 381.19A144.12 144.12 0 0 1 209.45 381.73M211.10 381.19L214.89 392.44M209.45 381.73L213.11 393.03M197.76 378.68L198.26 380.76M205.21 378.88A140.14 140.14 0 0 1 191.22 382.29M205.21 378.88L206.33 382.62M207.78 382.18A144.05 144.05 0 0 1 204.88 383.05M207.78 382.18L211.32 393.60M204.88 383.05L205.24 384.29M206.50 383.93A145.35 145.35 0 0 1 203.98 384.65M206.50 383.93L209.53 394.14M203.98 384.65L204.41 386.20M205.26 385.96A146.95 146.95 0 0 1 203.56 386.43M205.26 385.96L207.73 394.66M203.56 386.43L205.93 395.16M191.22 382.29L191.62 384.39M198.20 382.98A142.29 142.29 0 0 1 184.98 385.49M198.20 382.98L199.08 386.69M200.79 386.27A146.09 146.09 0 0 1 197.38 387.08M200.79 386.27L201.37 388.58M202.23 388.36A148.48 148.48 0 0 1 200.51 388.79M202.23 388.36L204.12 395.64M200.51 388.79L202.30 396.10M197.38 387.08L197.84 389.14M198.71 388.94A148.21 148.21 0 0 1 196.97 389.34M198.71 388.94L200.48 396.54M196.97 389.34L198.65 396.95M184.98 385.49L185.28 387.61M192.34 386.44A144.43 144.43 0 0 1 178.18 388.44M192.34 386.44L193.04 390.10M195.22 389.66A148.16 148.16 0 0 1 190.86 390.50M195.22 389.66L196.82 397.34M190.86 390.50L191.22 392.57M193.00 392.24A150.25 150.25 0 0 1 189.44 392.87M193.00 392.24L193.45 394.63M194.35 394.46A152.69 152.69 0 0 1 192.55 394.80M194.35 394.46L194.98 397.71M192.55 394.80L193.14 398.06M189.44 392.87L189.76 394.81M190.66 394.66A152.22 152.22 0 0 1 188.86 394.96M190.66 394.66L191.30 398.38M188.86 394.96L189.45 398.69M178.18 388.44L178.37 390.57M184.71 389.85A146.57 146.57 0 0 1 172.01 391.01M184.71 389.85L184.93 391.46M186.47 391.24A148.19 148.19 0 0 1 183.38 391.66M186.47 391.24L187.60 398.97M183.38 391.66L183.62 393.58M184.97 393.41A150.13 150.13 0 0 1 182.28 393.75M184.97 393.41L185.74 399.23M182.28 393.75L182.47 395.41M183.38 395.30A151.80 151.80 0 0 1 181.57 395.51M183.38 395.30L183.88 399.47M181.57 395.51L182.02 399.68M172.01 391.01L172.11 393.15M177.90 392.76A148.71 148.71 0 0 1 166.31 393.31M177.90 392.76L178.23 396.54M179.82 396.40A152.51 152.51 0 0 1 176.63 396.67M179.82 396.40L180.16 399.87M176.63 396.67L176.73 397.96M178.11 397.85A153.80 153.80 0 0 1 175.35 398.06M178.11 397.85L178.29 400.04M175.35 398.06L175.45 399.56M176.38 399.49A155.30 155.30 0 0 1 174.52 399.61M176.38 399.49L176.43 400.19M174.52 399.61L174.56 400.31M166.31 393.31L166.33 395.45M170.17 395.37A150.86 150.86 0 0 1 162.48 395.43M170.17 395.37L170.31 399.31M172.63 399.22A154.80 154.80 0 0 1 167.98 399.37M172.63 399.22L172.69 400.42M167.98 399.37L167.99 399.87M169.86 399.83A155.30 155.30 0 0 1 166.13 399.90M169.86 399.83L169.86 399.83M170.79 399.80A155.30 155.30 0 0 1 168.93 399.85M170.79 399.80L170.82 400.50M168.93 399.85L168.94 400.55M166.13 399.90L166.13 399.90M167.06 399.89A155.30 155.30 0 0 1 165.20 399.90M167.06 399.89L167.07 400.59M165.20 399.90L165.20 400.60M162.48 395.43L162.40 399.88M163.33 399.89A155.30 155.30 0 0 1 161.47 399.86M163.33 399.89L163.32 400.59M161.47 399.86L161.45 400.56M134.63 319.42L133.87 321.29M161.18 327.31A82.80 82.80 0 0 1 110.13 306.52M161.18 327.31L161.13 328.36M162.13 328.40A83.85 83.85 0 0 1 160.12 328.30M162.13 328.40L159.58 400.50M160.12 328.30L160.05 329.57M161.07 329.62A85.12 85.12 0 0 1 159.03 329.50M161.07 329.62L157.71 400.42M159.03 329.50L158.94 330.77M159.97 330.84A86.39 86.39 0 0 1 157.90 330.69M159.97 330.84L155.84 400.32M157.90 330.69L157.80 331.95M158.84 332.03A87.66 87.66 0 0 1 156.75 331.86M158.84 332.03L153.97 400.20M156.75 331.86L156.63 333.12M157.69 333.22A88.93 88.93 0 0 1 155.56 333.01M157.69 333.22L152.10 400.06M155.56 333.01L155.43 334.28M156.51 334.39A90.20 90.20 0 0 1 154.35 334.15M156.51 334.39L150.24 399.89M154.35 334.15L154.20 335.41M155.29 335.54A91.47 91.47 0 0 1 153.11 335.28M155.29 335.54L148.37 399.70M153.11 335.28L152.94 336.53M154.05 336.67A92.73 92.73 0 0 1 151.84 336.38M154.05 336.67L146.51 399.49M151.84 336.38L151.66 337.64M152.78 337.79A94.00 94.00 0 0 1 150.54 337.47M152.78 337.79L144.65 399.25M150.54 337.47L150.35 338.72M151.48 338.89A95.27 95.27 0 0 1 149.22 338.54M151.48 338.89L142.80 399.00M149.22 338.54L149.01 339.79M150.15 339.98A96.54 96.54 0 0 1 147.87 339.59M150.15 339.98L140.94 398.72M147.87 339.59L147.64 340.84M148.80 341.04A97.81 97.81 0 0 1 146.48 340.62M148.80 341.04L139.10 398.42M146.48 340.62L146.24 341.87M147.41 342.09A99.08 99.08 0 0 1 145.08 341.63M147.41 342.09L137.25 398.09M145.08 341.63L144.82 342.88M146.00 343.11A100.35 100.35 0 0 1 143.64 342.63M146.00 343.11L135.41 397.75M143.64 342.63L143.37 343.87M144.56 344.12A101.62 101.62 0 0 1 142.18 343.60M144.56 344.12L133.57 397.38M142.18 343.60L141.89 344.83M143.10 345.11A102.89 102.89 0 0 1 140.69 344.55M143.10 345.11L131.74 396.99M140.69 344.55L140.39 345.78M141.61 346.07A104.15 104.15 0 0 1 139.18 345.48M141.61 346.07L129.91 396.58M139.18 345.48L138.86 346.71M140.09 347.01A105.42 105.42 0 0 1 137.64 346.38M140.09 347.01L128.09 396.15M137.64 346.38L137.31 347.61M138.55 347.93A106.69 106.69 0 0 1 136.07 347.27M138.55 347.93L126.27 395.69M136.07 347.27L135.73 348.49M136.98 348.83A107.96 107.96 0 0 1 134.48 348.13M136.98 348.83L124.46 395.21M134.48 348.13L134.12 349.35M135.38 349.71A109.23 109.23 0 0 1 132.87 348.97M135.38 349.71L122.66 394.72M132.87 348.97L132.49 350.18M133.76 350.56A110.50 110.50 0 0 1 131.23 349.78M133.76 350.56L120.86 394.19M131.23 349.78L130.84 350.99M132.12 351.39A111.77 111.77 0 0 1 129.56 350.57M132.12 351.39L119.06 393.65M129.56 350.57L129.16 351.77M130.45 352.19A113.04 113.04 0 0 1 127.88 351.33M130.45 352.19L117.28 393.09M127.88 351.33L127.46 352.53M128.76 352.97A114.31 114.31 0 0 1 126.16 352.07M128.76 352.97L115.50 392.50M126.16 352.07L125.73 353.26M127.04 353.73A115.57 115.57 0 0 1 124.43 352.78M127.04 353.73L113.73 391.90M124.43 352.78L123.98 353.97M125.30 354.46A116.84 116.84 0 0 1 122.67 353.47M125.30 354.46L111.96 391.27M122.67 353.47L122.20 354.68M123.52 355.19A118.15 118.15 0 0 1 120.88 354.16M123.52 355.19L110.20 390.62M120.88 354.16L120.39 355.37M121.72 355.90A119.46 119.46 0 0 1 119.06 354.83M121.72 355.90L108.46 389.95M119.06 354.83L118.56 356.04M119.90 356.59A120.77 120.77 0 0 1 117.23 355.47M119.90 356.59L106.71 389.26M117.23 355.47L116.71 356.67M118.06 357.24A122.07 122.07 0 0 1 115.36 356.08M118.06 357.24L104.98 388.55M115.36 356.08L114.83 357.28M116.19 357.87A123.38 123.38 0 0 1 113.48 356.67M116.19 357.87L103.26 387.82M113.48 356.67L112.93 357.86M114.30 358.47A124.69 124.69 0 0 1 111.58 357.22M114.30 358.47L101.54 387.07M111.58 357.22L111.02 358.40M112.39 359.04A126.00 126.00 0 0 1 109.65 357.75M112.39 359.04L99.84 386.29M109.65 357.75L109.08 358.92M110.45 359.58A127.31 127.31 0 0 1 107.71 358.24M110.45 359.58L98.14 385.50M107.71 358.24L107.12 359.41M108.50 360.10A128.62 128.62 0 0 1 105.74 358.70M108.50 360.10L96.45 384.68M105.74 358.70L105.14 359.86M106.53 360.58A129.93 129.93 0 0 1 103.76 359.14M106.53 360.58L94.78 383.85M103.76 359.14L103.14 360.29M104.54 361.03A131.24 131.24 0 0 1 101.76 359.54M104.54 361.03L93.11 383.00M101.76 359.54L101.13 360.68M102.53 361.44A132.54 132.54 0 0 1 99.74 359.91M102.53 361.44L91.45 382.12M99.74 359.91L99.09 361.05M100.50 361.83A133.85 133.85 0 0 1 97.70 360.25M100.50 361.83L89.81 381.23M97.70 360.25L97.04 361.38M98.45 362.18A135.16 135.16 0 0 1 95.64 360.55M98.45 362.18L88.17 380.31M95.64 360.55L94.97 361.67M96.38 362.51A136.47 136.47 0 0 1 93.57 360.82M96.38 362.51L86.55 379.38M93.57 360.82L92.88 361.94M94.30 362.80A137.78 137.78 0 0 1 91.48 361.06M94.30 362.80L84.93 378.43M91.48 361.06L90.78 362.17M92.20 363.05A139.09 139.09 0 0 1 89.38 361.27M92.20 363.05L83.33 377.45M89.38 361.27L88.66 362.37M90.08 363.27A140.40 140.40 0 0 1 87.26 361.44M90.08 363.27L81.74 376.46M87.26 361.44L86.53 362.53M87.95 363.46A141.71 141.71 0 0 1 85.12 361.58M87.95 363.46L80.17 375.45M85.12 361.58L84.38 362.66M85.80 363.62A143.02 143.02 0 0 1 82.98 361.69M85.80 363.62L78.60 374.42M82.98 361.69L82.23 362.76M83.64 363.74A144.32 144.32 0 0 1 80.82 361.76M83.64 363.74L77.05 373.38M80.82 361.76L80.06 362.82M81.46 363.82A145.63 145.63 0 0 1 78.67 361.81M81.46 363.82L75.51 372.31M78.67 361.81L77.89 362.86M79.27 363.87A146.94 146.94 0 0 1 76.52 361.84M79.27 363.87L73.98 371.22M76.52 361.84L75.73 362.89M77.07 363.89A148.25 148.25 0 0 1 74.41 361.87M77.07 363.89L72.47 370.12M74.41 361.87L73.61 362.91M74.85 363.86A149.56 149.56 0 0 1 72.37 361.94M74.85 363.86L70.97 369.00M72.37 361.94L71.56 362.97M72.63 363.81A150.87 150.87 0 0 1 70.50 362.12M72.63 363.81L69.48 367.86M70.50 362.12L69.67 363.14M70.39 363.71A152.18 152.18 0 0 1 68.96 362.56M70.39 363.71L68.01 366.70M68.96 362.56L66.55 365.53M110.13 306.52L79.45 341.07M80.72 342.18A129.00 129.00 0 0 1 60.31 319.84M80.72 342.18L78.11 345.20M79.85 346.68A133.00 133.00 0 0 1 76.39 343.70M79.85 346.68L65.10 364.34M76.39 343.70L74.61 345.68M76.28 347.15A135.67 135.67 0 0 1 72.98 344.19M76.28 347.15L75.29 348.28M75.92 348.82A137.17 137.17 0 0 1 74.67 347.74M75.92 348.82L63.67 363.13M74.67 347.74L62.26 361.90M72.98 344.19L71.17 346.15M72.66 347.51A138.33 138.33 0 0 1 69.69 344.77M72.66 347.51L60.86 360.66M69.69 344.77L67.85 346.70M69.63 348.36A141.00 141.00 0 0 1 66.10 345.00M69.63 348.36L59.47 359.40M66.10 345.00L64.23 346.90M65.93 348.55A143.67 143.67 0 0 1 62.56 345.22M65.93 348.55L63.19 351.43M63.83 352.04A147.64 147.64 0 0 1 62.55 350.82M63.83 352.04L58.10 358.12M62.55 350.82L56.74 356.83M62.56 345.22L60.65 347.09M61.58 348.03A146.33 146.33 0 0 1 59.73 346.15M61.58 348.03L59.82 349.78M60.45 350.41A148.82 148.82 0 0 1 59.19 349.15M60.45 350.41L55.41 355.52M59.19 349.15L54.08 354.19M59.73 346.15L52.77 352.85M60.31 319.84L58.69 321.00M68.62 333.22A131.00 131.00 0 0 1 50.29 307.69M68.62 333.22L56.84 344.04M58.04 345.33A147.00 147.00 0 0 1 55.65 342.73M58.04 345.33L51.48 351.50M55.65 342.73L54.95 343.37M56.14 344.68A147.94 147.94 0 0 1 53.78 342.04M56.14 344.68L50.21 350.12M53.78 342.04L53.07 342.66M54.24 343.99A148.89 148.89 0 0 1 51.91 341.32M54.24 343.99L48.95 348.74M51.91 341.32L51.19 341.93M52.35 343.27A149.83 149.83 0 0 1 50.05 340.58M52.35 343.27L47.71 347.34M50.05 340.58L49.32 341.19M50.45 342.53A150.78 150.78 0 0 1 48.20 339.83M50.45 342.53L46.48 345.92M48.20 339.83L47.47 340.43M48.56 341.75A151.72 151.72 0 0 1 46.40 339.10M48.56 341.75L45.27 344.49M46.40 339.10L45.66 339.69M46.67 340.94A152.67 152.67 0 0 1 44.67 338.43M46.67 340.94L44.08 343.04M44.67 338.43L43.92 339.01M44.78 340.10A153.61 153.61 0 0 1 43.08 337.91M44.78 340.10L42.91 341.58M43.08 337.91L42.33 338.49M42.90 339.22A154.56 154.56 0 0 1 41.77 337.75M42.90 339.22L41.75 340.11M41.77 337.75L40.62 338.62M50.29 307.69L48.54 308.65M57.07 322.19A133.00 133.00 0 0 1 41.69 294.19M57.07 322.19L55.45 323.35M56.40 324.66A135.00 135.00 0 0 1 54.51 322.03M56.40 324.66L39.50 337.12M54.51 322.03L53.46 322.76M54.41 324.10A136.28 136.28 0 0 1 52.53 321.42M54.41 324.10L38.39 335.60M52.53 321.42L51.47 322.14M52.41 323.50A137.56 137.56 0 0 1 50.55 320.77M52.41 323.50L37.31 334.07M50.55 320.77L49.48 321.48M50.42 322.86A138.84 138.84 0 0 1 48.57 320.09M50.42 322.86L36.24 332.53M48.57 320.09L47.49 320.78M48.42 322.19A140.12 140.12 0 0 1 46.59 319.37M48.42 322.19L35.20 330.98M46.59 319.37L45.50 320.05M46.42 321.48A141.41 141.41 0 0 1 44.61 318.61M46.42 321.48L34.17 329.41M44.61 318.61L43.52 319.28M44.42 320.73A142.69 142.69 0 0 1 42.63 317.82M44.42 320.73L33.16 327.84M42.63 317.82L41.53 318.47M42.42 319.95A143.97 143.97 0 0 1 40.65 316.99M42.42 319.95L32.17 326.25M40.65 316.99L39.55 317.63M40.43 319.13A145.25 145.25 0 0 1 38.68 316.12M40.43 319.13L31.20 324.64M38.68 316.12L37.57 316.76M38.43 318.27A146.53 146.53 0 0 1 36.72 315.23M38.43 318.27L30.25 323.03M36.72 315.23L35.59 315.85M36.44 317.37A147.81 147.81 0 0 1 34.76 314.31M36.44 317.37L29.32 321.41M34.76 314.31L33.63 314.92M34.46 316.44A149.09 149.09 0 0 1 32.82 313.38M34.46 316.44L28.40 319.77M32.82 313.38L31.68 313.97M32.47 315.47A150.38 150.38 0 0 1 30.91 312.47M32.47 315.47L27.51 318.12M30.91 312.47L29.77 313.05M30.49 314.46A151.66 151.66 0 0 1 29.06 311.62M30.49 314.46L26.64 316.47M29.06 311.62L27.91 312.19M28.52 313.42A152.94 152.94 0 0 1 27.30 310.95M28.52 313.42L25.79 314.80M27.30 310.95L26.15 311.50M26.55 312.34A154.22 154.22 0 0 1 25.75 310.67M26.55 312.34L24.95 313.12M25.75 310.67L24.14 311.43M41.69 294.19L35.19 296.80M37.28 301.71A140.00 140.00 0 0 1 33.30 291.80M37.28 301.71L34.95 302.76M35.57 304.12A142.55 142.55 0 0 1 34.34 301.39M35.57 304.12L23.35 309.74M34.34 301.39L32.63 302.13M33.16 303.32A144.42 144.42 0 0 1 32.12 300.93M33.16 303.32L22.58 308.03M32.12 300.93L30.13 301.78M30.48 302.59A146.58 146.58 0 0 1 29.79 300.97M30.48 302.59L21.83 306.31M29.79 300.97L21.09 304.59M33.30 291.80L32.20 292.19M33.68 296.13A141.17 141.17 0 0 1 30.84 288.21M33.68 296.13L30.07 297.55M30.55 298.76A145.04 145.04 0 0 1 29.60 296.33M30.55 298.76L20.39 302.85M29.60 296.33L27.74 297.04M28.06 297.86A147.03 147.03 0 0 1 27.43 296.21M28.06 297.86L19.70 301.11M27.43 296.21L19.03 299.36M30.84 288.21L29.73 288.57M30.95 292.16A142.33 142.33 0 0 1 28.61 284.95M30.95 292.16L29.07 292.82M29.36 293.64A144.32 144.32 0 0 1 28.78 292.00M29.36 293.64L18.38 297.60M28.78 292.00L17.76 295.84M28.61 284.95L27.49 285.28M28.73 289.28A143.50 143.50 0 0 1 26.36 281.25M28.73 289.28L25.08 290.48M25.35 291.32A147.35 147.35 0 0 1 24.80 289.64M25.35 291.32L17.15 294.07M24.80 289.64L16.57 292.29M26.36 281.25L25.23 281.55M26.58 286.33A144.67 144.67 0 0 1 24.04 276.72M26.58 286.33L23.38 287.30M23.64 288.15A148.02 148.02 0 0 1 23.12 286.45M23.64 288.15L16.01 290.50M23.12 286.45L15.46 288.71M24.04 276.72L22.91 276.98M24.38 282.88A145.83 145.83 0 0 1 21.68 271.02M24.38 282.88L20.96 283.81M21.32 285.11A149.38 149.38 0 0 1 20.61 282.51M21.32 285.11L14.95 286.91M20.61 282.51L19.21 282.88M19.45 283.76A150.82 150.82 0 0 1 18.99 282.00M19.45 283.76L14.45 285.10M18.99 282.00L13.97 283.29M21.68 271.02L20.53 271.23M21.91 277.84A147.00 147.00 0 0 1 19.46 264.56M21.91 277.84L18.42 278.65M18.79 280.19A150.58 150.58 0 0 1 18.07 277.11M18.79 280.19L13.52 281.47M18.07 277.11L16.67 277.42M16.97 278.75A152.02 152.02 0 0 1 16.38 276.08M16.97 278.75L13.09 279.65M16.38 276.08L14.05 276.57M14.24 277.48A154.40 154.40 0 0 1 13.86 275.67M14.24 277.48L12.68 277.82M13.86 275.67L12.29 275.99M19.46 264.56L18.30 264.71M19.13 270.04A148.17 148.17 0 0 1 17.67 259.36M19.13 270.04L16.74 270.46M17.06 272.24A150.60 150.60 0 0 1 16.44 268.68M17.06 272.24L15.72 272.49M15.89 273.39A151.96 151.96 0 0 1 15.56 271.59M15.89 273.39L11.92 274.15M15.56 271.59L11.58 272.31M16.44 268.68L14.50 268.99M14.65 269.89A152.56 152.56 0 0 1 14.36 268.09M14.65 269.89L11.26 270.46M14.36 268.09L10.96 268.62M17.67 259.36L16.51 259.48M17.07 264.26A149.33 149.33 0 0 1 16.11 254.67M17.07 264.26L14.62 264.59M14.84 266.17A151.80 151.80 0 0 1 14.42 263.00M14.84 266.17L10.68 266.76M14.42 263.00L12.48 263.24M12.65 264.62A153.76 153.76 0 0 1 12.32 261.87M12.65 264.62L10.43 264.91M12.32 261.87L10.78 262.04M10.89 262.97A155.30 155.30 0 0 1 10.68 261.11M10.89 262.97L10.19 263.05M10.68 261.11L9.98 261.19M16.11 254.67L14.94 254.75M15.19 257.90A150.50 150.50 0 0 1 14.76 251.59M15.19 257.90L11.63 258.22M11.71 259.14A154.08 154.08 0 0 1 11.55 257.30M11.71 259.14L9.80 259.32M11.55 257.30L9.63 257.46M14.76 251.59L13.60 251.65M13.75 254.38A151.67 151.67 0 0 1 13.49 248.92M13.75 254.38L10.73 254.57M10.79 255.50A154.69 154.69 0 0 1 10.67 253.64M10.79 255.50L9.49 255.59M10.67 253.64L9.37 253.72M13.49 248.92L12.33 248.95M12.39 250.79A152.83 152.83 0 0 1 12.29 247.12M12.39 250.79L10.87 250.85M10.91 251.77A154.36 154.36 0 0 1 10.83 249.92M10.91 251.77L9.27 251.85M10.83 249.92L9.19 249.98M12.29 247.12L9.82 247.16M9.84 248.09A155.30 155.30 0 0 1 9.81 246.23M9.84 248.09L9.14 248.11M9.81 246.23L9.11 246.23M198.74 320.15A82.70 82.70 0 0 1 167.99 327.25M198.17 318.87L197.94 320.50M196.74 319.49L196.48 321.11M195.29 320.09L195.01 321.70M193.84 320.65L193.52 322.26M192.37 321.19L192.02 322.79M190.90 321.70L190.52 323.30M189.41 322.18L189.00 323.77M187.92 322.63L187.48 324.21M186.42 323.06L185.95 324.63M184.91 323.45L184.41 325.01M183.39 323.82L182.86 325.37M181.86 324.15L181.30 325.70M180.33 324.46L179.74 325.99M178.80 324.74L178.18 326.26M177.26 324.99L176.61 326.50M175.71 325.20L175.04 326.70M174.16 325.39L173.46 326.88M172.61 325.55L171.88 327.02M171.05 325.68L170.29 327.14M169.50 325.78L168.71 327.22M167.94 325.85L167.12 327.28M160.70 328.48A84.00 84.00 0 0 1 132.28 321.92M160.78 327.09L159.83 328.43M159.19 326.99L158.22 328.32M157.61 326.86L156.61 328.17M156.04 326.70L155.01 327.99M154.46 326.51L153.41 327.78M152.89 326.29L151.81 327.54M151.32 326.04L150.22 327.27M149.76 325.76L148.64 326.97M148.21 325.45L147.06 326.64M146.66 325.12L145.49 326.28M145.12 324.75L143.93 325.89M143.58 324.35L142.37 325.47M142.06 323.92L140.82 325.01M140.54 323.46L139.28 324.53M139.03 322.98L137.75 324.02M137.53 322.46L136.23 323.48M136.04 321.92L134.72 322.92M134.56 321.35L133.23 322.32M133.09 320.75L131.74 321.69M202.85 315.59A80.40 80.40 0 0 1 193.91 319.66M202.19 314.35L202.10 315.98M200.84 315.05L200.72 316.68M199.48 315.73L199.33 317.35M198.11 316.37L197.93 317.99M196.73 316.99L196.51 318.61M195.33 317.59L195.09 319.20M193.93 318.15L193.65 319.76M212.46 307.45A78.70 78.70 0 0 1 206.80 311.34M211.62 306.33L211.80 307.95M210.43 307.22L210.58 308.83M209.22 308.07L209.34 309.69M207.99 308.91L208.08 310.53M206.75 309.72L206.80 311.34M216.08 303.24A77.70 77.70 0 0 1 212.40 306.24M215.16 302.18L215.46 303.77M214.04 303.13L214.31 304.73M212.91 304.06L213.15 305.66M211.76 304.97L211.97 306.57M219.87 296.57A75.50 75.50 0 0 1 216.59 299.82M218.85 295.61L219.32 297.14M217.86 296.63L218.30 298.17M216.85 297.63L217.26 299.18M215.82 298.62L216.20 300.18M229.82 280.48A74.00 74.00 0 0 1 226.45 285.98M228.60 279.80L229.44 281.15M227.91 281.01L228.73 282.38M227.20 282.21L227.99 283.59M226.47 283.39L227.23 284.79M225.71 284.56L226.45 285.98M234.15 267.03A72.60 72.60 0 0 1 231.93 272.97M232.82 266.60L233.91 267.76M232.38 267.90L233.45 269.07M231.92 269.19L232.97 270.38M231.44 270.46L232.46 271.68M230.93 271.73L231.93 272.97M237.10 252.17A72.40 72.40 0 0 1 236.17 258.41M235.71 252.02L237.02 252.92M235.56 253.38L236.85 254.30M235.37 254.73L236.65 255.68M235.17 256.07L236.42 257.05M234.93 257.42L236.17 258.41M235.81 234.66A71.40 71.40 0 0 1 236.40 240.86M234.42 234.86L235.91 235.40M234.59 236.19L236.07 236.76M234.74 237.53L236.21 238.13M234.86 238.86L236.32 239.50M234.96 240.20L236.40 240.86M227.59 219.35A67.40 67.40 0 0 1 229.20 223.77M226.29 219.88L227.85 220.01M226.76 221.06L228.31 221.22M227.20 222.24L228.75 222.43M227.62 223.44L229.16 223.66" stroke="#808080" stroke-width="0.5" fill="none"/><path d="M10.78 215.72L3.70 214.40M11.14 213.87L4.08 212.46M11.52 212.02L4.47 210.53M11.92 210.18L4.89 208.60M12.34 208.34L5.34 206.68M12.79 206.51L5.81 204.77M13.26 204.69L6.29 202.86M13.75 202.87L6.81 200.95M14.26 201.05L7.34 199.05M14.79 199.24L7.90 197.16M15.35 197.44L8.48 195.28M15.93 195.65L9.09 193.40M16.53 193.86L9.71 191.53M17.15 192.08L10.36 189.67M17.79 190.31L11.03 187.82M18.45 188.54L11.72 185.97M19.13 186.79L12.44 184.13M19.84 185.04L13.18 182.31M20.56 183.30L13.93 180.49M21.31 181.57L14.72 178.68M22.08 179.84L15.52 176.87M22.86 178.13L16.34 175.08M23.67 176.43L17.19 173.30M24.50 174.74L18.05 171.53M25.35 173.05L18.94 169.77M26.22 171.38L19.85 168.02M27.11 169.72L20.78 166.28M28.02 168.07L21.73 164.56M28.95 166.43L22.70 162.84M29.90 164.80L23.69 161.14M30.86 163.18L24.71 159.44M31.85 161.57L25.74 157.76M32.86 159.98L26.79 156.10M33.88 158.40L27.87 154.44M34.93 156.83L28.96 152.80M35.99 155.27L30.07 151.17M37.07 153.73L31.20 149.56M38.17 152.20L32.35 147.96M39.29 150.68L33.52 146.37M40.43 149.18L34.71 144.80M41.58 147.68L35.92 143.24M42.76 146.21L37.14 141.70M43.95 144.75L38.39 140.17M45.15 143.30L39.65 138.65M46.38 141.87L40.93 137.16M47.62 140.45L42.23 135.67M48.88 139.05L43.55 134.20M50.16 137.66L44.88 132.75M51.45 136.29L46.24 131.32M52.76 134.93L47.60 129.90M54.08 133.59L48.99 128.50M55.42 132.26L50.39 127.11M56.78 130.95L51.81 125.74M58.15 129.66L53.25 124.39M59.54 128.39L54.70 123.06M60.94 127.13L56.17 121.74M62.36 125.88L57.65 120.44M63.79 124.66L59.15 119.16M65.24 123.45L60.66 117.90M66.70 122.26L62.19 116.65M68.18 121.09L63.73 115.42M69.67 119.93L65.29 114.22M71.17 118.80L66.86 113.03M72.69 117.68L68.45 111.86M74.22 116.58L70.05 110.71M75.76 115.50L71.67 109.57M77.32 114.43L73.29 108.46M78.89 113.39L74.94 107.37M80.47 112.36L76.59 106.30M82.06 111.36L78.26 105.24M83.67 110.37L79.94 104.21M85.29 109.40L81.63 103.20M86.92 108.45L83.33 102.21M88.56 107.52L85.05 101.24M90.21 106.61L86.77 100.29M91.87 105.72L88.51 99.35M93.54 104.85L90.26 98.45M95.23 104.01L92.02 97.56M96.92 103.18L93.79 96.69M98.62 102.37L95.57 95.85M100.34 101.58L97.37 95.02M102.06 100.81L99.17 94.22M103.79 100.07L100.98 93.44M105.53 99.34L102.80 92.68M107.28 98.64L104.63 91.94M109.03 97.95L106.46 91.23M110.80 97.29L108.31 90.53M112.57 96.65L110.16 89.86M114.35 96.03L112.02 89.21M116.14 95.43L113.89 88.59M117.93 94.85L115.77 87.98M119.74 94.30L117.66 87.40M121.54 93.76L119.55 86.85M123.36 93.25L121.44 86.31M125.18 92.76L123.35 85.80M127.00 92.29L125.26 85.31M128.84 91.85L127.17 84.84M130.67 91.42L129.09 84.40M132.51 91.02L131.02 83.98M134.36 90.64L132.95 83.58M136.21 90.28L134.89 83.20M138.07 89.94L136.83 82.85M139.93 89.63L138.77 82.52M141.79 89.34L140.72 82.22M143.65 89.07L142.67 81.94M145.52 88.83L144.62 81.68M147.39 88.60L146.58 81.45M149.27 88.40L148.54 81.24M151.15 88.22L150.51 81.05M153.02 88.07L152.47 80.89M154.90 87.93L154.44 80.75M156.79 87.82L156.40 80.63M158.67 87.73L158.37 80.54M160.55 87.67L160.34 80.47M162.44 87.62L162.32 80.42M164.32 87.60L164.29 80.40M166.21 87.60L166.26 80.40M168.09 87.63L168.23 80.43M169.98 87.68L170.20 80.48M171.86 87.75L172.17 80.55M173.74 87.84L174.14 80.65M175.63 87.95L176.11 80.77M177.51 88.09L178.07 80.91M179.38 88.25L180.04 81.08M181.26 88.43L182.00 81.27M183.13 88.64L183.96 81.49M185.01 88.87L185.92 81.73M186.87 89.12L187.87 81.99M188.74 89.39L189.82 82.27M190.60 89.68L191.77 82.58M192.46 90.00L193.71 82.91M194.31 90.34L195.65 83.27M196.16 90.70L197.59 83.65M198.01 91.09L199.52 84.05M199.85 91.49L201.44 84.47M201.69 91.92L203.36 84.92M203.52 92.37L205.28 85.39M205.34 92.84L207.19 85.89M207.16 93.34L209.09 86.40M208.97 93.86L210.99 86.94M210.78 94.39L212.88 87.50M212.58 94.95L214.76 88.09M214.37 95.53L216.63 88.70M216.16 96.14L218.50 89.33M217.94 96.76L220.36 89.98M219.71 97.40L222.22 90.65M221.47 98.07L224.06 91.35M223.23 98.76L225.90 92.07M224.98 99.47L227.72 92.81M226.72 100.20L229.54 93.57M228.44 100.95L231.35 94.36M230.17 101.72L233.15 95.16M231.88 102.51L234.94 95.99M233.58 103.32L236.72 96.84M235.27 104.15L238.49 97.71M236.95 105.01L240.24 98.60M238.62 105.88L241.99 99.52M240.28 106.77L243.73 100.45M241.93 107.68L245.45 101.40M243.57 108.62L247.17 102.38M245.20 109.57L248.87 103.38M246.81 110.54L250.56 104.39M248.42 111.53L252.24 105.43M250.01 112.54L253.90 106.48M251.59 113.57L255.55 107.56M253.15 114.62L257.19 108.66M254.71 115.68L258.82 109.77M256.25 116.77L260.43 110.91M257.78 117.87L262.03 112.06M259.29 118.99L263.61 113.23M260.79 120.13L265.18 114.43M262.28 121.29L266.74 115.64M263.76 122.47L268.28 116.87M265.21 123.66L269.81 118.12M266.66 124.87L271.32 119.38M268.09 126.10L272.81 120.67M269.51 127.35L274.29 121.97M270.91 128.61L275.76 123.29M272.29 129.89L277.21 124.63M273.66 131.18L278.64 125.98M275.01 132.49L280.05 127.35M276.35 133.82L281.45 128.74M277.67 135.17L282.84 130.15M278.98 136.52L284.20 131.57M280.27 137.90L285.55 133.01M281.54 139.29L286.88 134.46M282.80 140.70L288.20 135.93M284.04 142.12L289.49 137.42M285.26 143.55L290.77 138.92M286.46 145.00L292.03 140.43M287.65 146.47L293.27 141.97M288.82 147.95L294.49 143.51M289.97 149.44L295.70 145.07M291.11 150.94L296.88 146.65M292.22 152.46L298.05 148.24M293.32 154.00L299.20 149.84M294.40 155.54L300.33 151.46M295.46 157.10L301.44 153.09M296.50 158.67L302.52 154.73M297.52 160.26L303.59 156.39M298.52 161.85L304.64 158.06M299.51 163.46L305.67 159.74M300.47 165.08L306.68 161.43M301.42 166.71L307.67 163.14M302.34 168.35L308.64 164.86M303.25 170.01L309.58 166.59M304.13 171.67L310.51 168.33M305.00 173.35L311.42 170.08M305.85 175.03L312.30 171.84M306.67 176.73L313.16 173.61M307.48 178.43L314.00 175.40M308.26 180.15L314.82 177.19M309.02 181.87L315.62 178.99M309.77 183.60L316.40 180.80M310.49 185.34L317.16 182.63M311.19 187.09L317.89 184.46M311.87 188.85L318.60 186.29M312.53 190.62L319.29 188.14M313.17 192.39L319.96 190.00M313.78 194.17L320.60 191.86M314.38 195.96L321.22 193.73M314.95 197.76L321.82 195.61M315.50 199.56L322.40 197.49M316.03 201.37L322.95 199.39M316.54 203.18L323.48 201.29M317.03 205.01L323.99 203.19M317.49 206.83L324.48 205.10M317.93 208.67L324.94 207.02M318.35 210.50L325.38 208.94M318.75 212.35L325.80 210.87M319.13 214.19L326.19 212.80M319.48 216.04L326.56 214.74M319.81 217.90L326.91 216.68M320.12 219.76L327.23 218.62M320.41 221.62L327.53 220.57M320.67 223.49L327.81 222.52M320.92 225.36L328.06 224.48M321.14 227.23L328.29 226.43M321.33 229.11L328.50 228.40M321.51 230.98L328.68 230.36M321.66 232.86L328.84 232.32M321.79 234.74L328.98 234.29M321.90 236.63L329.09 236.26M321.98 238.51L329.18 238.23M322.04 240.39L329.24 240.20M322.08 242.28L329.28 242.17M322.10 244.16L329.30 244.14M322.09 246.05L329.29 246.11M322.06 247.93L329.26 248.09M322.01 249.82L329.21 250.06M321.94 251.70L329.13 252.03M321.84 253.58L329.03 254.00M321.72 255.46L328.91 255.96M321.58 257.34L328.76 257.93M321.42 259.22L328.59 259.89M321.23 261.10L328.39 261.85M321.02 262.97L328.17 263.81M320.79 264.84L327.93 265.77M320.54 266.71L327.66 267.72M320.26 268.57L327.37 269.67M319.96 270.44L327.06 271.62M319.64 272.29L326.73 273.56M319.29 274.15L326.37 275.50M318.93 276.00L325.98 277.44M318.54 277.84L325.58 279.37M318.13 279.68L325.15 281.29M317.70 281.52L324.70 283.21M317.24 283.35L324.22 285.12M316.77 285.17L323.72 287.03M316.27 286.99L323.20 288.93M315.75 288.80L322.66 290.83M315.21 290.61L322.09 292.72M314.64 292.40L321.50 294.60M314.06 294.20L320.89 296.47M313.45 295.98L320.26 298.34M312.83 297.76L319.60 300.20M312.18 299.53L318.92 302.05M311.51 301.29L318.22 303.89M310.82 303.05L317.50 305.73M310.10 304.79L316.75 307.55M309.37 306.53L315.99 309.37M308.62 308.26L315.20 311.17M307.84 309.97L314.39 312.97M307.05 311.68L313.56 314.76M306.23 313.38L312.70 316.54M305.39 315.07L311.83 318.30M304.54 316.75L310.93 320.06M303.66 318.42L310.02 321.81M302.77 320.08L309.08 323.54M301.85 321.73L308.12 325.26M300.91 323.36L307.14 326.97M299.96 324.99L306.14 328.67M298.98 326.60L305.12 330.36M297.99 328.20L304.08 332.04M296.98 329.79L303.02 333.70M295.94 331.37L301.94 335.35M294.89 332.93L300.84 336.99M293.82 334.49L299.73 338.61M292.73 336.03L298.59 340.22M291.63 337.55L297.43 341.81M290.50 339.06L296.25 343.40M289.36 340.56L295.06 344.96M288.20 342.05L293.84 346.52M287.02 343.52L292.61 348.06M285.82 344.98L291.36 349.58M284.61 346.42L290.09 351.09M283.38 347.85L288.80 352.58M282.13 349.26L287.50 354.06M280.86 350.66L286.17 355.52M279.58 352.04L284.83 356.97M278.28 353.41L283.47 358.40M276.97 354.76L282.10 359.81M275.64 356.09L280.71 361.20M274.29 357.41L279.30 362.58M272.93 358.71L277.87 363.95M271.55 360.00L276.43 365.29M270.16 361.27L274.98 366.62M268.75 362.52L273.50 367.93M267.33 363.76L272.01 369.22M265.89 364.98L270.51 370.50M264.43 366.18L268.99 371.76M262.97 367.36L267.46 372.99M261.49 368.53L265.91 374.21M259.99 369.68L264.34 375.41M258.48 370.81L262.77 376.60M256.96 371.92L261.17 377.76M255.43 373.01L259.57 378.90M253.88 374.09L257.95 380.03M252.32 375.15L256.32 381.13M250.74 376.18L254.67 382.22M249.16 377.20L253.01 383.28M247.56 378.20L251.34 384.33M245.95 379.18L249.66 385.36M244.33 380.14L247.96 386.36M242.69 381.09L246.25 387.34M241.05 382.01L244.53 388.31M239.39 382.91L242.80 389.25M237.73 383.79L241.06 390.17M236.05 384.65L239.30 391.08M234.36 385.50L237.54 391.96M232.67 386.32L235.77 392.82M230.96 387.12L233.98 393.65M229.24 387.90L232.19 394.47M227.52 388.66L230.38 395.26M225.79 389.40L228.57 396.04M224.04 390.12L226.75 396.79M222.29 390.81L224.91 397.52M220.53 391.49L223.07 398.23M218.76 392.14L221.22 398.91M216.99 392.78L219.37 399.57M215.21 393.39L217.50 400.21M213.42 393.98L215.63 400.83M211.62 394.55L213.75 401.43M209.81 395.10L211.86 402.00M208.00 395.62L209.97 402.55M206.19 396.13L208.07 403.08M204.37 396.61L206.17 403.58M202.54 397.07L204.25 404.06M200.70 397.51L202.34 404.52M198.87 397.93L200.41 404.96M197.02 398.32L198.49 405.37M195.17 398.69L196.55 405.76M193.32 399.04L194.62 406.13M191.46 399.37L192.67 406.47M189.60 399.68L190.73 406.79M187.74 399.96L188.78 407.08M185.87 400.22L186.83 407.36M184.00 400.46L184.87 407.61M182.13 400.67L182.91 407.83M180.26 400.87L180.95 408.03M178.38 401.04L178.99 408.21M176.50 401.19L177.02 408.37M174.62 401.31L175.05 408.50M172.74 401.41L173.09 408.61M170.85 401.49L171.12 408.69M168.97 401.55L169.15 408.75M167.08 401.59L167.17 408.79M165.20 401.60L165.20 408.80M163.31 401.59L163.23 408.79M161.43 401.56L161.26 408.76M159.54 401.50L159.29 408.70M157.66 401.42L157.32 408.62M155.78 401.32L155.35 408.51M153.90 401.20L153.38 408.38M152.02 401.05L151.42 408.23M150.14 400.89L149.45 408.05M148.26 400.69L147.49 407.85M146.39 400.48L145.53 407.63M144.52 400.25L143.58 407.38M142.65 399.99L141.62 407.11M140.79 399.71L139.67 406.82M138.93 399.40L137.73 406.50M137.07 399.08L135.79 406.16M135.22 398.73L133.85 405.80M133.37 398.36L131.92 405.41M131.53 397.97L129.99 405.00M129.69 397.55L128.06 404.57M127.85 397.12L126.15 404.11M126.03 396.66L124.23 403.63M124.20 396.18L122.33 403.13M122.39 395.68L120.43 402.61M120.57 395.15L118.53 402.06M118.77 394.61L116.65 401.49M116.97 394.04L114.76 400.89M115.18 393.45L112.89 400.28M113.40 392.84L111.03 399.64M111.62 392.21L109.17 398.98M109.85 391.56L107.32 398.30M108.09 390.88L105.48 397.59M106.34 390.19L103.65 396.87M104.60 389.47L101.82 396.12M102.86 388.74L100.01 395.35M101.13 387.98L98.20 394.55M99.42 387.20L96.41 393.74M97.71 386.40L94.62 392.90M96.01 385.58L92.84 392.05M94.32 384.74L91.08 391.17M92.65 383.88L89.32 390.27M90.98 383.00L87.58 389.35M89.32 382.10L85.85 388.41M87.68 381.18L84.13 387.45M86.04 380.24L82.42 386.46M84.42 379.28L80.72 385.46M82.81 378.31L79.04 384.44M81.21 377.31L77.36 383.39M79.62 376.29L75.70 382.33M78.05 375.26L74.06 381.25M76.48 374.20L72.42 380.14M74.94 373.13L70.80 379.02M73.40 372.04L69.19 377.88M71.87 370.93L67.60 376.72M70.36 369.80L66.02 375.54M68.87 368.65L64.46 374.34M67.39 367.49L62.90 373.12M65.92 366.30L61.37 371.89M64.46 365.10L59.85 370.63M63.02 363.89L58.34 369.36M61.60 362.65L56.85 368.07M60.19 361.40L55.38 366.76M58.79 360.13L53.92 365.43M57.41 358.85L52.48 364.09M56.05 357.55L51.05 362.73M54.70 356.23L49.64 361.35M53.37 354.90L48.25 359.95M52.05 353.55L46.87 358.54M50.75 352.18L45.51 357.12M49.47 350.80L44.17 355.67M48.20 349.41L42.84 354.21M46.95 347.99L41.53 352.74M45.72 346.57L40.25 351.24M44.50 345.13L38.97 349.74M43.31 343.67L37.72 348.22M42.13 342.20L36.49 346.68M40.96 340.72L35.27 345.13M39.82 339.22L34.07 343.56M38.69 337.71L32.89 341.98M37.58 336.19L31.73 340.39M36.49 334.65L30.59 338.78M35.42 333.10L29.47 337.16M34.37 331.53L28.37 335.52M33.33 329.96L27.29 333.87M32.32 328.37L26.23 332.21M31.32 326.77L25.18 330.54M30.34 325.16L24.16 328.85M29.38 323.53L23.16 327.15M28.45 321.90L22.18 325.44M27.53 320.25L21.22 323.72M26.63 318.59L20.28 321.99M25.75 316.93L19.36 320.24M24.89 315.25L18.46 318.49M24.06 313.56L17.59 316.72M23.24 311.86L16.73 314.95M22.44 310.15L15.90 313.16M21.66 308.43L15.09 311.36M20.91 306.71L14.29 309.56M20.17 304.97L13.53 307.74M19.46 303.23L12.78 305.92M18.76 301.47L12.05 304.08M18.09 299.71L11.35 302.24M17.44 297.94L10.67 300.39M16.81 296.17L10.01 298.53M16.20 294.38L9.37 296.67M15.62 292.59L8.76 294.79M15.05 290.79L8.17 292.91M14.51 288.99L7.60 291.02M13.98 287.18L7.05 289.13M13.48 285.36L6.53 287.23M13.00 283.54L6.03 285.32M12.55 281.71L5.55 283.41M12.11 279.87L5.10 281.49M11.70 278.03L4.67 279.57M11.31 276.19L4.26 277.64M10.94 274.34L3.87 275.70M10.60 272.49L3.51 273.77M10.27 270.63L3.17 271.82M9.97 268.77L2.86 269.88M9.69 266.91L2.57 267.93M9.44 265.04L2.30 265.97M9.20 263.17L2.05 264.02M8.99 261.29L1.83 262.06M8.80 259.42L1.63 260.10M8.63 257.54L1.46 258.13M8.49 255.66L1.31 256.17M8.37 253.78L1.18 254.20M8.27 251.90L1.08 252.23M8.19 250.01L1.00 250.26M8.14 248.13L0.94 248.29M8.11 246.24L0.91 246.32" stroke="#929292" stroke-width="0.75" fill="none"/><line x1="296.11" y1="205.66" x2="292.60" y2="210.20" stroke="#ff0000" stroke-width="1.9" stroke-linecap="round"/><circle cx="297.7" cy="203.6" r="2.45" fill="none" stroke="#ff0000" stroke-width="1.7"/><line x1="295.84" y1="266.60" x2="292.10" y2="271.10" stroke="#ff0000" stroke-width="1.9" stroke-linecap="round"/><circle cx="297.5" cy="264.6" r="2.45" fill="none" stroke="#ff0000" stroke-width="1.7"/><line x1="316.9" y1="204.9" x2="320.9" y2="203.6" stroke="#e2e838" stroke-width="1.8"/><line x1="316.2" y1="285.6" x2="320.2" y2="286.9" stroke="#e2e838" stroke-width="1.8"/><line x1="5.6" y1="216.6" x2="10.2" y2="217.1" stroke="#9aa0f0" stroke-width="0.8"/>
<rect x="408" y="152.9" width="34" height="9.6" fill="#ffff00"/><rect x="408.6" y="402.9" width="33.2" height="9.8" fill="#ffff00"/>
<path d="M333.0 116.5H384.5M384.5 91.4V141.8M384.5 91.4H399.4M399.4 81.2V100.6M399.4 81.2H407.0M399.4 100.6H403.0M403.0 94.0V106.9M403.0 94.0H407.0M403.0 106.9H407.0M384.5 141.8H387.8M387.8 126.1V157.0M387.8 126.1H402.5M402.5 119.7V132.5M402.5 119.7H407.0M402.5 132.5H407.0M387.8 157.0H391.6M391.6 145.4V169.7M391.6 145.4H407.0M391.6 169.7H395.3M395.3 158.2V181.0M395.3 158.2H407.0M395.3 181.0H399.1M399.1 171.0V190.6M399.1 171.0H407.0M399.1 190.6H402.8M402.8 183.8V196.7M402.8 183.8H407.0M402.8 196.7H407.0M334.0 294.3H381.4M381.4 235.9V352.4M381.4 235.9H385.4M385.4 219.1V253.3M385.4 219.1H407.0M385.4 253.3H388.8M388.8 237.9V268.4M388.8 237.9H403.5M403.5 231.7V244.2M403.5 231.7H407.0M403.5 244.2H407.0M388.8 268.4H392.4M392.4 256.8V280.4M392.4 256.8H407.0M392.4 280.4H396.4M396.4 269.3V291.6M396.4 269.3H407.0M396.4 291.6H400.1M400.1 281.9V300.5M400.1 281.9H407.0M400.1 300.5H403.5M403.5 294.4V306.9M403.5 294.4H407.0M403.5 306.9H407.0M381.4 352.4H388.8M388.8 326.0V378.3M388.8 326.0H403.5M403.5 319.5V332.1M403.5 319.5H407.0M403.5 332.1H407.0M388.8 378.3H392.4M392.4 354.2V403.3M392.4 354.2H399.7M399.7 344.6V363.5M399.7 344.6H407.0M399.7 363.5H403.5M403.5 357.1V369.7M403.5 357.1H407.0M403.5 369.7H407.0M392.4 403.3H396.1M396.1 388.4V416.5M396.1 388.4H403.5M403.5 382.2V394.8M403.5 382.2H407.0M403.5 394.8H407.0M396.1 416.5H399.8M399.8 407.4V425.5M399.8 407.4H407.0M399.8 425.5H403.5M403.5 419.9V432.5M403.5 419.9H407.0M403.5 432.5H407.0" stroke="#6a6a6a" stroke-width="1" fill="none"/>
<text transform="translate(489.0,62.3) rotate(-90)" class="h">Serotype</text><text transform="translate(516.3,62.3) rotate(-90)" class="h">Sequence type</text><text transform="translate(544.8,62.3) rotate(-90)" class="h">Source</text><text transform="translate(587.6,62.3) rotate(-90)" class="h">Country</text><text transform="translate(654.4,62.3) rotate(-90)" class="h">Strain</text>
<text x="409" y="84.32" class="n">SAMN11854305</text><text x="483.3" y="83.70" class="v" text-anchor="start" style="text-anchor:start">1</text><text x="514.2" y="83.70" class="v">1</text><text x="542.4" y="83.70" class="v">PD</text><text x="585.1" y="83.70" class="v">USA</text><text x="656.2" y="83.70" class="v">2017UMN52.2</text><text x="409" y="97.15" class="n">SAMEA3234007</text><text x="483.3" y="96.53" class="v" text-anchor="start" style="text-anchor:start">1</text><text x="514.2" y="96.53" class="v">1</text><text x="542.4" y="96.53" class="v">PD</text><text x="582.8" y="96.53" class="v">UK</text><text x="652.2" y="96.53" class="v">S13H</text><text x="409" y="109.98" class="n">SAMEA3233998</text><text x="483.3" y="109.36" class="v" text-anchor="start" style="text-anchor:start">14</text><text x="514.2" y="109.36" class="v">1</text><text x="542.4" y="109.36" class="v">PD</text><text x="582.8" y="109.36" class="v">UK</text><text x="652.5" y="109.36" class="v">S12Y</text><text x="409" y="122.81" class="n">SAMEA3595208</text><text x="483.3" y="122.19" class="v" text-anchor="start" style="text-anchor:start">1</text><text x="514.2" y="122.19" class="v">132</text><text x="542.4" y="122.19" class="v">PD</text><text x="588.6" y="122.19" class="v">Netherlands</text><text x="651.6" y="122.19" class="v">C187</text><text x="409" y="135.64" class="n">SAMEA3233872</text><text x="483.3" y="135.02" class="v" text-anchor="start" style="text-anchor:start">1</text><text x="514.2" y="135.02" class="v">1</text><text x="542.4" y="135.02" class="v">PD</text><text x="582.8" y="135.02" class="v">UK</text><text x="650.7" y="135.02" class="v">LL-Q</text><text x="409" y="148.47" class="n">SAMEA3595207</text><text x="483.3" y="147.85" class="v" text-anchor="start" style="text-anchor:start">1</text><text x="514.2" y="147.85" class="v">1</text><text x="542.4" y="147.85" class="v">PD</text><text x="587.8" y="147.85" class="v">Netherlands</text><text x="650.7" y="147.85" class="v">C160</text><text x="409" y="161.30" class="n">ID35541</text><text x="483.3" y="160.68" class="v" text-anchor="start" style="text-anchor:start">1</text><text x="514.2" y="160.68" class="v">237</text><text x="542.4" y="160.68" class="v">PH</text><text x="584.6" y="160.68" class="v">Thailand</text><text x="650.0" y="160.68" class="v">ID35541</text><text x="409" y="174.13" class="n">SAMD00009292</text><text x="483.3" y="173.51" class="v" text-anchor="start" style="text-anchor:start">14</text><text x="514.2" y="173.51" class="v">11</text><text x="542.4" y="173.51" class="v">H</text><text x="585.1" y="173.51" class="v">Thailand</text><text x="651.9" y="173.51" class="v">MNCM07</text><text x="409" y="186.96" class="n">SAMN08295905</text><text x="483.3" y="186.34" class="v" text-anchor="start" style="text-anchor:start">1</text><text x="514.2" y="186.34" class="v">11</text><text x="542.4" y="186.34" class="v">PH</text><text x="584.1" y="186.34" class="v">China</text><text x="654.8" y="186.34" class="v">832</text><text x="409" y="199.79" class="n">SAMN08295903</text><text x="483.3" y="199.17" class="v" text-anchor="start" style="text-anchor:start">1</text><text x="514.2" y="199.17" class="v">11</text><text x="542.4" y="199.17" class="v">PH</text><text x="584.1" y="199.17" class="v">China</text><text x="654.8" y="199.17" class="v">812</text><text x="409" y="222.22" class="n">SAMN02603326</text><text x="485.3" y="221.60" class="v" text-anchor="start" style="text-anchor:start">14</text><text x="514.2" y="221.60" class="v">7</text><text x="542.4" y="221.60" class="v">PD</text><text x="586.0" y="221.60" class="v">China</text><text x="653.5" y="221.60" class="v">JS14</text><text x="409" y="234.77" class="n">SAMN08296039</text><text x="485.3" y="234.15" class="v" text-anchor="start" style="text-anchor:start">2</text><text x="514.2" y="234.15" class="v">7</text><text x="542.4" y="234.15" class="v">PH</text><text x="585.8" y="234.15" class="v">China</text><text x="654.4" y="234.15" class="v">2355</text><text x="409" y="247.32" class="n">SAMN08296038</text><text x="485.3" y="246.70" class="v" text-anchor="start" style="text-anchor:start">2</text><text x="514.2" y="246.70" class="v">7</text><text x="542.4" y="246.70" class="v">PH</text><text x="586.0" y="246.70" class="v">China</text><text x="654.4" y="246.70" class="v">2283</text><text x="409" y="259.87" class="n">SAMN08295992</text><text x="485.3" y="259.25" class="v" text-anchor="start" style="text-anchor:start">2</text><text x="514.2" y="259.25" class="v">7</text><text x="542.4" y="259.25" class="v">PH</text><text x="586.3" y="259.25" class="v">China</text><text x="654.4" y="259.25" class="v">1358</text><text x="409" y="272.42" class="n">SAMN02603632</text><text x="485.3" y="271.80" class="v" text-anchor="start" style="text-anchor:start">2</text><text x="514.2" y="271.80" class="v">7</text><text x="542.4" y="271.80" class="v">PH</text><text x="586.5" y="271.80" class="v">China</text><text x="655.3" y="271.80" class="v">SC070731</text><text x="409" y="284.97" class="n">SAMN08238443</text><text x="485.3" y="284.35" class="v" text-anchor="start" style="text-anchor:start">2</text><text x="514.2" y="284.35" class="v">7</text><text x="542.4" y="284.35" class="v">H</text><text x="586.9" y="284.35" class="v">China</text><text x="656.0" y="284.35" class="v">CH52</text><text x="409" y="297.52" class="n">SAMN08238506</text><text x="485.3" y="296.90" class="v" text-anchor="start" style="text-anchor:start">2</text><text x="514.2" y="296.90" class="v">7</text><text x="542.4" y="296.90" class="v">H</text><text x="586.9" y="296.90" class="v">China</text><text x="656.0" y="296.90" class="v">CH79</text><text x="409" y="310.07" class="n">SAMN08238502</text><text x="485.3" y="309.45" class="v" text-anchor="start" style="text-anchor:start">2</text><text x="514.2" y="309.45" class="v">7</text><text x="542.4" y="309.45" class="v">H</text><text x="586.9" y="309.45" class="v">China</text><text x="656.0" y="309.45" class="v">CH73</text><text x="409" y="322.62" class="n">SAMEA3234065</text><text x="485.3" y="322.00" class="v" text-anchor="start" style="text-anchor:start">2</text><text x="514.2" y="322.00" class="v">869</text><text x="542.4" y="322.00" class="v">H</text><text x="588.6" y="322.00" class="v">Vietnam</text><text x="654.2" y="322.00" class="v">S7Q</text><text x="409" y="335.17" class="n">SAMEA3233971</text><text x="485.3" y="334.55" class="v" text-anchor="start" style="text-anchor:start">2</text><text x="514.2" y="334.55" class="v">891</text><text x="542.4" y="334.55" class="v">PD</text><text x="589.4" y="334.55" class="v">UK</text><text x="655.2" y="334.55" class="v">S10A</text><text x="409" y="347.72" class="n">SAMN02603318</text><text x="485.3" y="347.10" class="v" text-anchor="start" style="text-anchor:start">2</text><text x="514.2" y="347.10" class="v">7</text><text x="542.4" y="347.10" class="v">PD</text><text x="588.2" y="347.10" class="v">China</text><text x="654.2" y="347.10" class="v">A7</text><text x="409" y="360.27" class="n">SAMEA3233975</text><text x="485.3" y="359.65" class="v" text-anchor="start" style="text-anchor:start">2</text><text x="514.2" y="359.65" class="v">873</text><text x="542.4" y="359.65" class="v">PD</text><text x="589.6" y="359.65" class="v">UK</text><text x="655.0" y="359.65" class="v">S10E</text><text x="409" y="372.82" class="n">SAMEA3233871</text><text x="485.3" y="372.20" class="v" text-anchor="start" style="text-anchor:start">2</text><text x="514.2" y="372.20" class="v">873</text><text x="542.4" y="372.20" class="v">PD</text><text x="589.8" y="372.20" class="v">UK</text><text x="653.4" y="372.20" class="v">LL-P</text><text x="409" y="385.37" class="n">SAMEA3233818</text><text x="485.3" y="384.75" class="v" text-anchor="start" style="text-anchor:start">2*</text><text x="514.2" y="384.75" class="v">105</text><text x="542.4" y="384.75" class="v">H</text><text x="589.4" y="384.75" class="v">Vietnam</text><text x="655.2" y="384.75" class="v">E11Q</text><text x="409" y="397.92" class="n">SAMEA1566194</text><text x="485.3" y="397.30" class="v" text-anchor="start" style="text-anchor:start">2*</text><text x="514.2" y="397.30" class="v">105</text><text x="542.4" y="397.30" class="v">H</text><text x="589.4" y="397.30" class="v">Vietnam</text><text x="657.8" y="397.30" class="v">EN191</text><text x="409" y="410.47" class="n">ID38828</text><text x="485.3" y="409.85" class="v" text-anchor="start" style="text-anchor:start">1</text><text x="514.2" y="409.85" class="v">105</text><text x="542.4" y="409.85" class="v">H</text><text x="589.2" y="409.85" class="v">Thailand</text><text x="657.5" y="409.85" class="v">ID38828</text><text x="409" y="423.02" class="n">SAMEA3233828</text><text x="485.3" y="422.40" class="v" text-anchor="start" style="text-anchor:start">2*</text><text x="514.2" y="422.40" class="v">105</text><text x="542.4" y="422.40" class="v">H</text><text x="589.4" y="422.40" class="v">Vietnam</text><text x="656.8" y="422.40" class="v">E34W</text><text x="409" y="435.57" class="n">SAMEA1566042</text><text x="485.3" y="434.95" class="v" text-anchor="start" style="text-anchor:start">2*</text><text x="514.2" y="434.95" class="v">105</text><text x="542.4" y="434.95" class="v">H</text><text x="589.4" y="434.95" class="v">Vietnam</text><text x="657.8" y="434.95" class="v">EN314</text>
</svg>
</body></html>
